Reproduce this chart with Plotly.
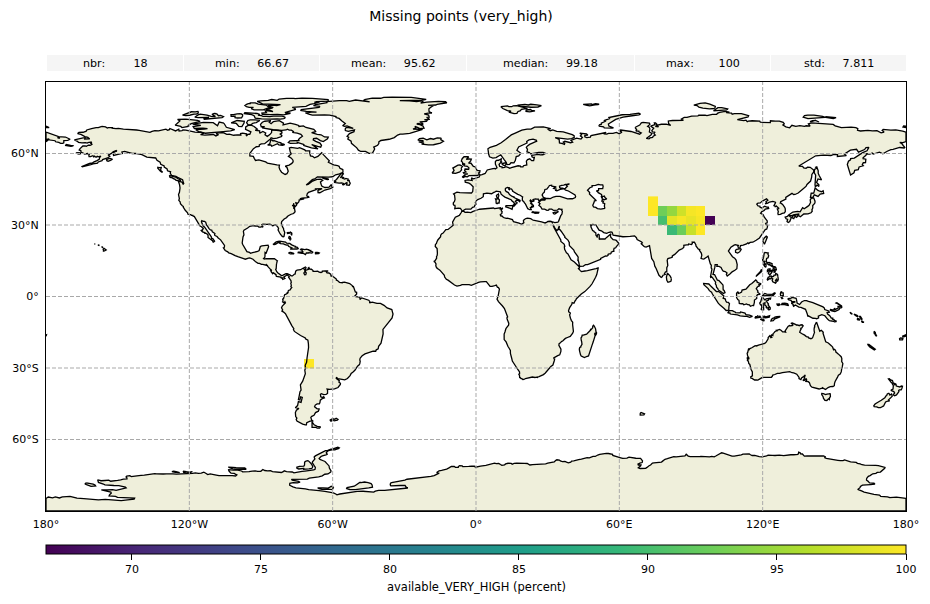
"""Missing points map: land and coast lists are lon/lat, drawn on plain axes since the geo basemap needs a CDN."""
import plotly.graph_objects as go

# stats strip above the map
stat_labels = ["nbr", "min", "mean", "median", "max", "std"]
stat_values = ["18", "66.67", "95.62", "99.18", "100", "7.811"]
stat_gaps = [8, 5, 5, 5, 7, 5]

# grid cells that have a value (cell centres, 4 degree grid)
cell_lon = [74, 74, 78, 82, 86, 90, 94, 78, 82, 86, 90, 94, 98, 82, 86, 90, 94, -70]
cell_lat = [40, 36, 36, 36, 36, 36, 36, 32, 32, 32, 32, 32, 32, 28, 28, 28, 28, -28]
cell_val = [100, 100, 92.6, 94.6, 97.6, 99.6, 100, 90, 98.7, 99.7, 98.9, 99.7, 66.67, 89.2, 92.4, 97.2, 100, 100]

lon_ticks = [-180, -120, -60, 0, 60, 120, 180]
lon_labels = ["180°", "120°W", "60°W", "0°", "60°E", "120°E", "180°"]
lat_ticks = [60, 30, 0, -30, -60]
lat_labels = ["60°N", "30°N", "0°", "30°S", "60°S"]
cbar_ticks = [70, 75, 80, 85, 90, 95, 100]

# coastlines, (lon, lat)
afro_eurasia = [
    (66.69,71.03),(68.54,71.93),(69.2,72.84),(69.94,73.04),(72.59,72.78),(72.79,72.22),(71.85,71.41),(72.47,71.09),(72.79,70.39),(72.56,69.02),(73.67,68.41),(73.24,67.74),(71.28,66.32),(72.42,66.17),(72.82,66.54),(73.92,66.79),(74.19,67.28),(75.05,67.76),(74.47,68.33),(74.94,68.99),(73.84,69.07),(73.6,69.63),(74.4,70.63),(73.1,71.45),(74.89,72.12),(74.66,72.83),(75.16,72.85),(75.68,72.3),(75.29,71.34),(76.36,71.15),(75.9,71.87),(77.58,72.27),(79.65,72.32),(81.5,71.75),(80.61,72.58),(80.51,73.65),(82.25,73.85),(84.66,73.81),(86.82,73.94),(86.01,74.46),(87.17,75.12),(88.32,75.14),(90.26,75.64),(92.9,75.77),(93.23,76.05),(95.86,76.14),(96.68,75.92),(98.92,76.45),(100.76,76.43),(101.04,76.86),(101.99,77.29),(104.35,77.7),(106.07,77.37),(104.71,77.13),(106.97,76.97),(107.24,76.48),(108.15,76.72),(111.08,76.71),(113.33,76.22),(114.13,75.85),(113.89,75.33),(112.78,75.03),(110.15,74.48),(109.4,74.18),(110.64,74.04),(112.12,73.79),(113.02,73.98),(113.53,73.34),(113.97,73.59),(115.57,73.75),(118.78,73.59),(119.02,73.12),(123.2,72.97),(123.26,73.74),(125.38,73.56),(126.98,73.57),(128.59,73.04),(129.05,72.4),(128.46,71.98),(129.72,71.19),(131.29,70.79),(132.25,71.84),(133.86,71.39),(135.56,71.66),(137.5,71.35),(138.23,71.63),(139.87,71.49),(139.15,72.42),(140.47,72.85),(149.5,72.2),(150.35,71.61),(152.97,70.84),(157.01,71.03),(159.0,70.87),(159.83,70.45),(159.71,69.72),(160.94,69.44),(162.28,69.64),(164.05,69.67),(165.94,69.47),(167.84,69.58),(169.58,68.69),(170.82,69.01),(170.01,69.65),(170.45,70.1),(173.64,69.82),(175.72,69.88),(178.6,69.4),(180,68.96),
    (180,64.98),(178.71,64.53),(177.41,64.61),(178.31,64.08),(178.91,63.25),(179.37,62.98),(179.49,62.57),(179.23,62.3),(177.36,62.52),(174.57,61.77),(173.68,61.65),(172.15,60.95),(170.7,60.34),(170.33,59.88),(168.9,60.57),(166.3,59.79),(165.84,60.16),(164.88,59.73),(163.54,59.87),(163.22,59.21),(162.02,58.24),(162.05,57.84),(163.19,57.62),(163.06,56.16),(162.13,56.12),(161.7,55.29),(162.12,54.86),(160.37,54.34),(160.02,53.2),(158.53,52.96),(158.23,51.94),(156.79,51.01),(155.43,55.38),(155.91,56.77),(156.76,57.36),(156.81,57.83),(158.36,58.06),(160.15,59.31),(161.87,60.34),(163.67,61.14),(164.47,62.55),(163.26,62.47),(162.66,61.64),(160.12,60.54),(159.3,61.77),(156.72,61.43),(154.22,59.76),(155.04,59.14),(152.81,58.88),(151.27,58.78),(151.34,59.5),(149.78,59.66),(148.54,59.16),(145.49,59.34),(142.2,59.04),(138.96,57.09),(135.13,54.73),(136.7,54.6),(137.19,53.98),(138.16,53.76),(138.8,54.25),(139.9,54.19),(141.35,53.09),(141.38,52.24),(140.6,51.24),(140.51,50.05),(140.06,48.45),(138.55,47.0),(138.22,46.31),(136.86,45.14),(135.52,43.99),(134.87,43.4),(133.54,42.81),(132.91,42.8),(132.28,43.28),(130.94,42.55),(130.78,42.22),(130.4,42.28),(129.97,41.94),(129.67,41.6),(129.71,40.88),(129.19,40.66),(129.01,40.49),(128.63,40.19),(127.97,40.0),(127.53,39.76),(127.5,39.32),(127.39,39.21),(127.78,39.05),(128.35,38.61),(129.21,37.43),(129.46,36.78),(129.47,35.63),(129.09,35.08),(128.19,34.89),(127.39,34.48),(126.49,34.39),(126.37,34.93),(126.56,35.68),(126.12,36.73),(126.86,36.89),(126.17,37.75),(125.69,37.94),(125.57,37.75),(125.28,37.67),(125.24,37.86),(124.71,38.11),(124.99,38.55),(125.22,38.67),(125.13,38.85),(125.39,39.39),(125.32,39.55),(124.74,39.66),(124.27,39.93),(122.87,39.64),(122.13,39.17),(121.05,38.9),(121.59,39.36),(121.38,39.75),(122.17,40.42),(121.64,40.95),(120.77,40.59),(119.64,39.9),(119.02,39.25),(118.04,39.2),(117.53,38.74),(118.06,38.06),(118.88,37.9),(118.91,37.45),(119.7,37.16),(120.82,37.87),(121.71,37.48),(122.36,37.45),(122.52,36.93),(121.1,36.65),(120.64,36.11),(119.66,35.61),(119.15,34.91),(120.23,34.36),(120.62,33.38),(121.23,32.46),(121.91,31.69),(121.89,30.95),(121.26,30.68),(121.5,30.14),(122.09,29.83),(121.94,29.02),(121.68,28.23),(121.13,28.14),(120.4,27.05),(119.59,25.74),(118.66,24.55),(117.28,23.62),(115.89,22.78),(114.76,22.67),(114.15,22.22),(113.81,22.55),(113.24,22.05),(111.84,21.55),(110.78,21.4),(110.44,20.34),(109.89,20.28),(109.63,21.01),(109.86,21.4),(108.52,21.72),(108.05,21.55),(106.72,20.7),(105.88,19.75),(105.66,19.06),(106.43,18.0),(107.36,16.7),(108.27,16.08),(108.88,15.28),(109.34,13.43),(109.2,11.67),(108.37,11.01),(107.22,10.36),(106.41,9.53),(105.16,8.6),(104.8,9.24),(105.08,9.92),(104.33,10.49),(103.5,10.63),(103.09,11.15),(102.58,12.19),(101.69,12.65),(100.83,12.63),(100.98,13.41),(100.1,13.41),(99.99,12.31),(99.15,9.96),(99.22,9.24),(99.87,9.21),(100.28,8.3),(100.46,7.43),(101.02,6.86),(101.62,6.74),(102.14,6.22),(102.37,6.13),(102.96,5.52),(103.38,4.86),(103.44,4.18),(103.33,3.73),(103.43,3.38),(103.5,2.79),(103.87,2.52),(104.25,1.63),(103.52,1.23),(102.57,1.97),(101.39,2.76),(101.27,3.27),(100.69,3.94),(100.56,4.77),(100.2,5.31),(100.31,6.04),(100.09,6.46),(99.69,6.85),(99.52,7.34),(98.99,7.91),(98.5,8.38),(98.34,7.79),(98.15,8.35),(98.26,8.97),(98.55,9.93),(98.46,10.68),(98.76,11.44),(98.43,12.03),(98.51,13.12),(98.1,13.64),(97.78,14.84),(97.6,16.1),(97.16,16.93),(96.51,16.43),(95.37,15.71),(94.81,15.8),(94.19,16.04),(94.53,17.28),(94.32,18.21),(93.54,19.37),(93.66,19.73),(93.08,19.86),(92.37,20.67),(92.08,21.19),(92.03,21.7),(91.83,22.18),(91.42,22.77),(90.5,22.81),(90.59,22.39),(90.27,21.84),(89.85,22.04),(89.7,21.86),(89.42,21.97),(89.03,22.06),(88.89,21.69),(88.21,21.7),(86.98,21.5),(87.03,20.74),(86.5,20.15),(85.06,19.48),(83.94,18.3),(83.19,17.67),(82.19,17.02),(82.19,16.56),(81.69,16.31),(80.79,15.95),(80.32,15.9),(80.03,15.14),(80.23,13.84),(80.29,13.01),(79.86,12.06),(79.86,10.36),(79.34,10.31),(78.89,9.55),(79.19,9.22),(78.28,8.93),(77.94,8.25),(77.54,7.97),(76.59,8.9),(76.13,10.3),(75.75,11.31),(75.4,11.78),(74.86,12.74),(74.62,13.99),(74.44,14.62),(73.53,15.99),(73.12,17.93),(72.82,19.21),(72.82,20.42),(72.63,21.36),(71.18,20.76),(70.47,20.88),(69.16,22.09),(69.64,22.45),(69.35,22.84),(68.18,23.69),(67.44,23.94),(67.15,24.66),(66.37,25.43),(64.53,25.24),(62.91,25.22),(61.5,25.08),(59.62,25.38),(58.53,25.61),(57.4,25.74),(56.97,26.97),(56.49,27.14),(55.72,26.96),(54.72,26.48),(53.49,26.81),(52.48,27.58),(51.52,27.87),(50.85,28.81),(50.12,30.15),(49.58,29.99),(48.94,30.32),(48.57,29.93),(47.97,29.98),(48.18,29.53),(48.09,29.31),(48.42,28.55),(48.81,27.69),(49.3,27.46),(49.47,27.11),(50.15,26.69),(50.21,26.28),(50.11,25.94),(50.24,25.61),(50.53,25.33),(50.66,24.9),(50.81,24.75),(50.74,25.48),(51.01,26.01),(51.29,26.11),(51.59,25.8),(51.61,25.22),(51.39,24.63),(51.58,24.25),(51.76,24.29),(51.79,24.02),(52.58,24.18),(53.4,24.15),(54.01,24.12),(54.69,24.8),(55.44,25.44),(56.07,26.06),(56.36,26.4),(56.49,26.31),(56.39,25.9),(56.26,25.71),(56.4,24.92),(56.85,24.24),(57.4,23.88),(58.14,23.75),(58.73,23.57),(59.18,22.99),(59.45,22.66),(59.81,22.53),(59.81,22.31),(59.28,21.43),(58.86,21.11),(58.49,20.43),(58.03,20.48),(57.83,20.24),(57.67,19.74),(57.79,19.07),(57.69,18.94),(57.23,18.95),(56.61,18.57),(56.51,18.09),(56.28,17.88),(55.66,17.88),(55.27,17.63),(55.27,17.23),(54.79,16.95),(54.24,17.04),(53.57,16.71),(53.11,16.65),(52.39,16.38),(52.19,15.94),(52.17,15.6),(51.17,15.18),(49.57,14.71),(48.68,14.0),(48.24,13.95),(47.94,14.01),(47.35,13.59),(46.72,13.4),(45.88,13.35),(45.63,13.29),(45.41,13.03),(45.14,12.95),(44.99,12.7),(44.49,12.72),(44.18,12.59),(43.48,12.64),(43.22,13.22),(43.25,13.77),(43.09,14.06),(42.89,14.8),(42.6,15.21),(42.81,15.26),(42.7,15.72),(42.82,15.91),(42.78,16.35),(42.65,16.77),(42.35,17.08),(42.27,17.47),(41.75,17.83),(41.22,18.67),(40.94,19.49),(40.25,20.17),(39.8,20.34),(39.14,21.29),(39.02,21.99),(39.07,22.58),(38.49,23.69),(38.02,24.08),(37.48,24.29),(37.15,24.86),(37.21,25.08),(36.93,25.6),(36.64,25.83),(36.25,26.57),(35.64,27.38),(35.13,28.06),(34.63,28.06),(34.79,28.61),(34.83,28.96),(34.96,29.36),(34.92,29.5),
    (34.64,29.1),(34.43,28.34),(34.15,27.82),(33.92,27.65),(33.59,27.97),(33.14,28.42),(32.42,29.85),(32.32,29.76),(32.73,28.71),(33.35,27.7),(34.1,26.14),(34.47,25.6),(34.8,25.03),(35.69,23.93),(35.49,23.75),(35.53,23.1),(36.69,22.2),(36.87,22.0),(37.19,21.02),(36.97,20.84),(37.11,19.81),(37.48,18.61),(37.86,18.37),(38.41,18.0),(38.99,16.84),(39.27,15.92),(39.81,15.44),(41.18,14.49),(41.73,13.92),(42.28,13.34),(42.59,13.0),(43.08,12.7),(43.32,12.39),(43.29,11.97),(42.72,11.74),(43.15,11.46),(43.47,11.28),(43.67,10.86),(44.12,10.45),(44.61,10.44),(45.56,10.7),(46.65,10.82),(47.53,11.13),(48.02,11.19),(48.38,11.38),(48.95,11.41),(49.27,11.43),(49.73,11.58),(50.26,11.68),(50.73,12.02),(51.11,12.02),(51.13,11.75),(51.04,11.17),(51.05,10.64),(50.83,10.28),(50.55,9.2),(50.07,8.08),(49.45,6.8),(48.59,5.34),(47.74,4.22),(46.56,2.86),(45.56,2.05),(44.07,1.05),(43.14,0.29),(42.04,-0.92),(41.81,-1.45),(41.58,-1.68),(40.99,-2.85),(40.26,-2.57),(40.12,-3.28),(39.8,-3.68),(39.6,-4.35),(39.2,-4.68),(38.74,-5.91),(38.8,-6.48),(39.44,-6.84),(39.47,-7.1),(39.19,-7.7),(39.25,-8.01),(39.19,-8.49),(39.54,-9.11),(39.95,-10.1),(40.32,-10.32),(40.48,-10.77),(40.44,-11.76),(40.56,-12.64),(40.6,-14.2),(40.78,-14.69),(40.48,-15.41),(40.09,-16.1),(39.45,-16.72),(38.54,-17.1),(37.41,-17.59),(36.28,-18.66),(35.9,-18.84),(35.2,-19.55),(34.79,-19.78),(34.7,-20.5),(35.18,-21.25),(35.37,-21.84),(35.39,-22.14),(35.56,-22.09),(35.53,-23.07),(35.37,-23.54),(35.61,-23.71),(35.46,-24.12),(35.04,-24.48),(34.22,-24.82),(33.01,-25.36),(32.57,-25.73),(32.66,-26.15),(32.92,-26.22),(32.83,-26.74),(32.58,-27.47),(32.46,-28.3),(32.2,-28.75),(31.33,-29.4),(30.9,-29.91),(30.62,-30.42),(30.06,-31.14),(28.93,-32.17),(28.22,-32.77),(27.46,-33.23),(26.42,-33.61),(25.91,-33.67),(25.78,-33.94),(25.17,-33.8),(24.68,-33.99),(23.59,-33.79),(22.99,-33.92),(22.57,-33.86),(21.54,-34.26),(20.69,-34.42),(20.07,-34.8),(19.62,-34.82),(19.19,-34.46),(18.86,-34.44),(18.42,-34.0),(18.38,-34.14),(18.24,-33.87),(18.25,-33.28),(17.93,-32.61),(18.25,-32.43),(18.22,-31.66),(17.57,-30.73),(17.06,-29.88),(16.34,-28.58),(15.6,-27.82),(15.21,-27.09),(14.99,-26.12),(14.74,-25.39),(14.41,-23.85),(14.39,-22.66),(14.26,-22.11),(13.87,-21.7),(13.35,-20.87),(12.83,-19.67),(12.61,-19.05),(11.79,-18.07),(11.73,-17.3),(11.64,-16.67),(11.78,-15.79),(12.12,-14.88),(12.18,-14.45),(12.5,-13.55),(12.74,-13.14),(13.31,-12.48),(13.63,-12.04),(13.74,-11.3),(13.69,-10.73),(13.39,-10.37),(13.12,-9.77),(12.88,-9.17),(12.93,-8.96),(13.24,-8.56),(12.93,-7.6),(12.73,-6.93),(12.23,-6.29),(12.32,-6.1),(12.18,-5.79),(11.91,-5.04),(11.09,-3.98),(10.07,-2.97),(9.41,-2.14),(8.8,-1.11),(8.83,-0.78),(9.05,-0.46),(9.29,0.27),(9.49,1.01),(9.31,1.16),(9.65,2.28),(9.8,3.07),(9.4,3.73),(8.95,3.9),(8.74,4.35),(8.49,4.5),(8.5,4.77),(7.46,4.41),(7.08,4.46),(6.7,4.24),(5.9,4.26),(5.36,4.89),(5.03,5.61),(4.33,6.27),(3.57,6.26),(2.69,6.26),(1.87,6.14),(1.06,5.93),(-0.51,5.34),(-1.06,5.0),(-1.96,4.71),(-2.86,5.0),(-3.31,4.98),(-4.01,5.18),(-4.65,5.17),(-5.83,4.99),(-6.53,4.71),(-7.52,4.34),(-7.71,4.36),(-7.97,4.36),(-9.0,4.83),(-9.91,5.59),(-10.76,6.14),(-11.44,6.79),(-11.71,6.86),(-12.43,7.26),(-12.95,7.8),(-13.12,8.16),(-13.25,8.9),(-13.69,9.49),(-14.07,9.89),(-14.33,10.02),(-14.58,10.21),(-14.69,10.66),(-14.84,10.88),(-15.13,11.04),(-15.66,11.46),(-16.09,11.52),(-16.31,11.81),(-16.31,11.96),(-16.61,12.17),(-16.68,12.38),(-16.84,13.15),(-16.71,13.59),(-17.13,14.37),(-17.63,14.73),(-17.19,14.92),(-16.7,15.62),(-16.46,16.14),(-16.55,16.67),(-16.27,17.17),(-16.15,18.11),(-16.26,19.1),(-16.38,19.59),(-16.28,20.09),(-17.06,20.99),(-17.02,21.42),(-16.97,21.89),(-16.59,22.16),(-16.26,22.68),(-16.33,23.02),(-15.98,23.72),(-15.43,24.36),(-15.09,24.52),(-14.82,25.1),(-14.8,25.64),(-14.44,26.25),(-13.77,26.62),(-13.14,27.64),(-12.62,28.04),(-11.69,28.15),(-10.9,28.83),(-10.4,29.1),(-9.56,29.93),(-9.81,31.18),(-9.43,32.04),(-9.3,32.56),(-8.66,33.24),(-7.65,33.7),(-6.91,34.11),(-6.24,35.15),(-5.93,35.76),(-5.19,35.76),(-4.59,35.33),(-3.64,35.4),(-2.6,35.18),(-2.17,35.17),(-1.21,35.71),(-0.13,35.89),(0.5,36.3),(1.47,36.61),(3.16,36.78),(4.82,36.87),(5.32,36.72),(6.26,37.11),(7.33,37.12),(7.74,36.89),(8.42,36.95),(9.51,37.35),(10.21,37.23),(10.18,36.72),(11.03,37.09),(11.1,36.9),(10.6,36.41),(10.59,35.95),(10.94,35.7),(10.81,34.83),(10.15,34.33),(10.34,33.79),(10.86,33.77),(11.11,33.29),(11.49,33.14),(12.66,32.79),(13.08,32.88),(13.92,32.71),(15.25,32.27),(15.71,31.38),(16.61,31.18),(18.02,30.76),(19.09,30.27),(19.57,30.53),(20.05,30.99),(19.82,31.75),(20.13,32.24),(20.85,32.71),(21.54,32.84),(22.9,32.64),(23.24,32.19),(23.61,32.19),(23.93,32.02),(24.92,31.9),(25.16,31.57),(26.5,31.59),(27.46,31.32),(28.45,31.03),(28.91,30.87),(29.68,31.19),(30.09,31.47),(30.98,31.56),(31.69,31.43),(31.96,30.93),(32.19,31.26),(32.99,31.02),(33.77,30.97),(34.27,31.22),
    (34.55,31.55),(34.96,32.83),(35.13,33.09),(35.48,33.91),(35.98,34.61),(35.91,35.41),(36.15,35.82),(35.78,36.27),(36.16,36.65),(35.55,36.57),(34.71,36.8),(34.03,36.22),(32.51,36.11),(31.7,36.64),(30.62,36.68),(30.39,36.26),(29.7,36.14),(28.73,36.68),(27.64,36.66),(27.05,37.65),(26.32,38.21),(26.8,38.99),(26.17,39.46),(27.28,40.42),(28.82,40.46),(29.24,41.22),(31.15,41.09),(32.35,41.74),(33.51,42.02),(35.17,42.04),(36.91,41.34),(38.35,40.95),(39.51,41.1),(40.37,41.01),(41.55,41.54),(41.7,41.96),(41.45,42.65),(40.88,43.01),(40.32,43.13),(39.96,43.43),(38.68,44.28),(37.54,44.66),(36.68,45.24),(37.4,45.4),(38.23,46.24),(37.67,46.64),(39.15,47.04),(39.12,47.26),(38.22,47.1),(37.43,47.02),(36.76,46.7),(35.82,46.65),(34.96,46.27),(35.02,45.65),(35.51,45.41),(36.53,45.47),(36.33,45.11),(35.24,44.94),(33.88,44.36),(33.33,44.56),(33.55,45.03),(32.45,45.33),(32.63,45.52),(33.59,46.0),(33.3,46.08),(31.74,46.33),(31.68,46.71),(30.75,46.58),(30.38,46.03),(29.6,45.29),(29.63,45.04),(28.84,44.91),(28.56,43.71),(28.04,43.29),(27.67,42.58),(28.0,42.01),(28.12,41.62),(28.99,41.3),(28.81,41.05),(27.62,41.0),(27.19,40.69),(26.36,40.15),(26.04,40.62),(26.06,40.82),(25.45,40.85),(24.93,40.95),(23.71,40.69),(24.41,40.12),(23.9,39.96),(23.34,39.96),(22.81,40.48),(22.63,40.26),(22.85,39.66),(23.35,39.19),(22.97,38.97),(23.53,38.51),(24.03,38.22),(24.04,37.66),(23.12,37.92),(23.41,37.41),(22.77,37.31),(23.15,36.42),(22.49,36.41),(21.67,36.84),(21.3,37.64),(21.12,38.31),(20.73,38.77),(20.22,39.34),(20.15,39.62),(19.98,39.69),(19.96,39.92),(19.41,40.25),(19.32,40.73),(19.4,41.41),(19.54,41.72),(19.37,41.88),(19.16,41.96),(18.88,42.28),(18.45,42.48),(17.51,42.85),(16.93,43.21),(16.02,43.51),(15.17,44.24),(15.38,44.32),(14.92,44.74),(14.9,45.08),(14.26,45.23),(13.95,44.8),(13.66,45.14),(13.68,45.48),(13.94,45.59),(13.14,45.74),(12.33,45.38),(12.26,44.6),(12.59,44.09),(13.53,43.59),(14.03,42.76),(15.14,41.96),(15.93,41.96),(16.17,41.74),(15.89,41.54),(16.79,41.18),(17.52,40.88),(18.38,40.36),(18.48,40.17),(18.29,39.81),(17.74,40.28),(16.87,40.44),(16.45,39.8),(17.17,39.42),(17.05,38.9),(16.64,38.84),(16.1,37.99),(15.68,37.91),(15.69,38.21),(15.89,38.75),(16.11,38.96),(15.72,39.54),(15.41,40.05),(14.99,40.17),(14.7,40.6),(14.06,40.79),(13.63,41.19),(12.89,41.25),(12.11,41.7),(11.19,42.36),(10.51,42.93),(10.2,43.92),(9.7,44.04),(8.89,44.37),(8.43,44.23),(7.85,43.77),(7.44,43.69),(6.53,43.13),(4.56,43.4),(3.1,43.08),(2.99,42.47),(3.04,41.89),(2.09,41.23),(0.81,41.01),(0.72,40.68),(0.11,40.12),(-0.28,39.31),(0.11,38.74),(-0.47,38.29),(-0.68,37.64),(-1.44,37.44),(-2.15,36.67),(-3.42,36.66),(-4.37,36.68),(-5.0,36.32),(-5.38,35.95),(-5.87,36.03),(-6.24,36.37),(-6.52,36.94),(-7.45,37.1),(-7.85,37.0),(-8.38,36.98),(-8.9,36.87),(-8.75,37.65),(-8.84,38.27),(-9.29,38.36),(-9.53,38.74),(-9.45,39.39),(-9.05,39.76),(-8.77,40.76),(-8.79,41.18),(-8.99,41.54),(-9.03,41.88),(-8.98,42.59),(-9.39,43.03),(-7.98,43.75),(-6.75,43.57),(-5.41,43.57),(-4.35,43.4),(-3.52,43.46),(-1.9,43.42),(-1.38,44.02),(-1.19,46.01),(-2.23,47.06),(-2.96,47.57),(-4.49,47.95),(-4.59,48.68),(-3.3,48.9),(-1.62,48.64),(-1.93,49.78),(-1.0,49.35),(1.34,50.13),(1.64,50.95),(2.51,51.15),(3.31,51.35),(3.83,51.62),(4.71,53.09),(6.07,53.51),(6.91,53.48),(7.1,53.69),(7.94,53.75),(8.12,53.53),(8.8,54.02),(8.57,54.4),(8.53,54.96),(8.12,55.52),(8.09,56.54),(8.26,56.81),(8.54,57.11),(9.42,57.17),(9.94,57.45),(10.58,57.73),(10.55,57.22),(10.25,56.89),(10.37,56.61),(10.91,56.46),(10.67,56.08),(10.37,56.19),(9.65,55.47),(9.92,54.98),(9.94,54.6),(10.95,54.36),(10.94,54.01),(11.96,54.2),(12.52,54.47),(13.65,54.08),(14.12,53.76),(14.8,54.05),(16.36,54.51),(17.62,54.85),(18.62,54.68),(18.7,54.44),(19.66,54.43),(19.89,54.87),(21.27,55.19),(21.06,56.03),(21.09,56.78),(21.58,57.41),(22.52,57.75),(23.32,57.01),(24.12,57.03),(24.31,57.79),(24.43,58.38),(24.06,58.26),(23.43,58.61),(23.34,59.19),(24.6,59.47),(25.86,59.61),(26.95,59.45),(27.98,59.48),(29.12,60.03),(28.07,60.5),(26.26,60.42),(24.5,60.06),(22.87,59.85),(22.29,60.39),(21.32,60.72),(21.54,61.71),(21.06,62.61),(21.54,63.19),(22.44,63.82),(24.73,64.9),(25.4,65.11),(25.29,65.53),(23.9,66.01),(22.18,65.72),(21.21,65.03),(21.37,64.41),(19.78,63.61),(17.85,62.75),(17.12,61.34),(17.83,60.64),(18.79,60.08),(17.87,58.95),(16.83,58.72),(16.45,57.04),(15.88,56.1),(14.67,56.2),(14.1,55.41),(12.94,55.36),(12.63,56.31),(11.79,57.44),(11.03,58.86),(10.36,59.47),(8.38,58.31),(7.05,58.08),(5.67,58.59),(5.31,59.66),(4.99,61.97),(5.91,62.61),(8.55,63.45),(10.53,64.49),(12.36,65.88),(14.76,67.81),(16.44,68.56),(19.18,69.82),(21.38,70.26),(23.02,70.2),(24.55,71.03),(26.37,70.99),(28.17,71.19),(31.29,70.45),(30.01,70.19),(31.1,69.56),(32.13,69.91),(33.78,69.3),(36.51,69.06),(40.29,67.93),(41.06,67.46),(41.13,66.79),(40.02,66.27),(38.38,66.0),(33.92,66.76),(33.18,66.63),(34.81,65.9),(34.88,65.44),(34.94,64.41),(36.23,64.11),(37.01,63.85),(37.14,64.33),(36.54,64.76),(37.18,65.14),(39.59,64.52),(40.44,64.76),(39.76,65.5),(42.09,66.48),(43.02,66.42),(43.95,66.07),(44.53,66.76),(43.7,67.35),(44.19,67.95),(43.45,68.57),(46.25,68.25),(46.82,67.69),(45.56,67.57),(45.56,67.01),(46.35,66.67),(47.89,66.88),(48.14,67.52),(50.23,67.99),(53.72,68.86),(54.47,68.81),(53.49,68.2),(54.73,68.1),(55.44,68.44),(57.32,68.47),(58.8,68.88),(59.94,68.28),(61.08,68.94),(60.03,69.52),(60.55,69.85),(63.5,69.55),(64.89,69.23),(68.51,68.09),(69.18,68.62),(68.16,69.14),(68.14,69.36),(66.93,69.45),(67.26,69.93),(66.72,70.71),(66.69,71.03),
]
chukotka = [(-180,68.96),(-177.55,68.2),(-174.93,67.21),(-175.01,66.58),(-174.34,66.34),(-174.57,67.06),(-171.86,66.91),(-169.9,65.98),(-170.89,65.54),(-172.53,65.44),(-172.56,64.46),(-172.96,64.25),(-173.89,64.28),(-174.65,64.63),(-175.98,64.92),(-176.21,65.36),(-177.22,65.52),(-178.36,65.39),(-178.9,65.74),(-178.69,66.11),(-179.88,65.87),(-179.43,65.4),(-180,64.98),(-180,68.96)]
americas = [
    (-156.58,71.36),(-155.07,71.15),(-154.34,70.7),(-153.9,70.89),(-152.21,70.83),(-152.27,70.6),(-150.74,70.43),(-149.72,70.53),(-147.61,70.21),(-145.69,70.12),(-144.92,69.99),(-143.59,70.15),(-142.07,69.85),(-141.0,69.71),(-139.12,69.47),(-137.55,68.99),(-136.5,68.9),(-135.63,69.32),(-134.41,69.63),(-132.93,69.51),(-131.43,69.94),(-129.79,70.19),(-129.11,69.78),(-128.36,70.01),(-128.14,70.48),(-125.76,69.48),(-124.42,70.16),(-124.29,69.4),(-123.06,69.56),(-122.68,69.86),(-121.47,69.8),(-119.94,69.38),(-117.6,69.01),(-116.23,68.84),(-115.25,68.91),(-113.9,68.4),(-115.3,67.9),(-113.5,67.69),(-110.8,67.81),(-109.95,67.98),(-108.88,67.38),(-107.79,67.89),(-108.81,68.31),(-108.17,68.65),(-106.95,68.7),(-106.15,68.8),(-105.34,68.56),(-104.34,68.02),(-103.22,68.1),(-101.45,67.65),(-99.9,67.81),(-98.44,67.78),(-98.56,68.4),(-97.67,68.58),(-96.12,68.24),(-96.13,67.29),(-95.49,68.09),(-94.69,68.06),(-94.23,69.07),(-95.3,69.69),(-96.47,70.09),(-96.39,71.19),(-95.21,71.92),(-93.89,71.76),(-92.88,71.32),(-91.52,70.19),(-92.41,69.7),(-90.55,69.5),(-90.55,68.47),(-89.22,69.26),(-88.02,68.62),(-88.32,67.87),(-87.35,67.2),(-86.31,67.92),(-85.58,68.78),(-85.52,69.88),(-84.1,69.81),(-82.62,69.66),(-81.28,69.16),(-81.22,68.67),(-81.96,68.13),(-81.26,67.6),(-81.39,67.11),(-83.34,66.41),(-84.74,66.26),(-85.77,66.56),(-86.07,66.06),(-87.03,65.21),(-87.32,64.78),(-88.48,64.1),(-89.91,64.03),(-90.7,63.61),(-90.77,62.96),(-91.93,62.84),(-93.16,62.02),(-94.24,60.9),(-94.63,60.11),(-94.68,58.95),(-93.22,58.78),(-92.76,57.85),(-92.3,57.09),(-90.9,57.28),(-89.04,56.85),(-88.04,56.47),(-87.32,55.999),(-86.07,55.72),(-85.01,55.3),(-83.36,55.24),(-82.27,55.15),(-82.44,54.28),(-82.13,53.28),(-81.4,52.16),(-79.91,51.21),(-79.14,51.53),(-78.6,52.56),(-79.12,54.14),(-79.83,54.67),(-78.23,55.14),(-77.1,55.84),(-76.54,56.53),(-76.62,57.2),(-77.3,58.05),(-78.52,58.8),(-77.34,59.85),(-77.77,60.76),(-78.11,62.32),(-77.41,62.55),(-75.7,62.28),(-74.67,62.18),(-73.84,62.44),(-72.91,62.11),(-71.68,61.53),(-71.37,61.14),(-69.59,61.06),(-69.62,60.22),(-69.29,58.96),(-68.37,58.8),(-67.65,58.21),(-66.2,58.77),(-65.25,59.87),(-64.58,60.34),(-63.8,59.44),(-62.5,58.17),(-61.4,56.97),(-61.8,56.34),(-60.47,55.78),(-59.57,55.2),(-57.98,54.95),(-57.33,54.63),(-56.94,53.78),(-56.16,53.65),(-55.76,53.27),(-55.68,52.15),(-56.41,51.77),(-57.13,51.42),(-58.77,51.06),(-60.03,50.24),(-61.72,50.08),(-63.86,50.29),(-65.36,50.3),(-66.4,50.23),(-67.24,49.51),(-68.51,49.07),(-69.95,47.74),(-71.1,46.82),(-70.26,46.99),(-68.65,48.3),(-66.55,49.13),(-65.06,49.23),(-64.17,48.74),(-65.12,48.07),(-64.8,46.99),(-64.47,46.24),(-63.17,45.74),(-61.52,45.88),(-60.52,47.01),(-60.45,46.28),(-59.8,45.92),(-61.04,45.27),(-63.25,44.67),(-64.25,44.27),(-65.36,43.55),(-66.12,43.62),(-66.16,44.47),(-64.43,45.29),(-66.03,45.26),(-67.14,45.14),(-66.96,44.81),(-68.03,44.33),(-69.06,43.98),(-70.12,43.68),(-70.65,43.09),(-70.81,42.87),(-70.83,42.34),(-70.5,41.8),(-70.08,41.78),(-70.18,42.15),(-69.88,41.92),(-69.97,41.64),(-70.64,41.48),(-71.12,41.49),(-71.86,41.32),(-72.88,41.22),(-73.71,40.93),(-72.24,41.12),(-71.95,40.93),(-73.35,40.63),(-74.0,40.63),(-73.95,40.75),(-74.26,40.47),(-73.96,40.43),(-74.18,39.71),(-74.91,38.94),(-74.98,39.2),(-75.2,39.25),(-75.53,39.5),(-75.32,38.96),(-75.07,38.78),(-75.06,38.4),(-75.38,38.02),(-75.94,37.22),(-76.03,37.26),(-75.72,37.94),(-76.23,38.32),(-76.35,39.15),(-76.54,38.72),(-76.33,38.08),(-76.99,38.24),(-76.3,37.92),(-76.26,36.97),(-75.97,36.9),(-75.73,35.55),(-76.36,34.81),(-77.4,34.51),(-78.05,33.93),(-78.55,33.86),(-79.06,33.49),(-79.2,33.16),(-80.3,32.51),(-80.86,32.03),(-81.34,31.44),(-81.49,30.73),(-81.31,30.04),(-80.98,29.18),(-80.54,28.47),(-80.53,28.04),(-80.06,26.88),(-80.09,25.82),(-80.38,25.21),(-80.68,25.08),(-81.17,25.2),(-81.33,25.64),(-81.71,25.87),(-82.24,26.73),(-82.71,27.5),(-82.85,27.89),(-82.65,28.55),(-82.93,29.1),(-83.71,29.94),(-84.1,30.09),(-85.11,29.64),(-85.29,29.69),(-85.77,30.15),(-86.4,30.4),(-87.53,30.27),(-88.42,30.38),(-89.18,30.32),(-89.6,30.16),(-89.41,29.89),(-89.43,29.49),(-89.22,29.29),(-89.41,29.16),(-89.78,29.31),(-90.15,29.12),(-90.88,29.15),(-91.63,29.68),(-92.5,29.55),(-93.23,29.78),(-93.85,29.71),(-94.69,29.48),(-95.6,28.74),(-96.59,28.31),(-97.14,27.83),(-97.37,27.38),(-97.38,26.69),(-97.33,26.21),(-97.14,25.87),(-97.53,24.99),(-97.7,24.27),(-97.78,22.93),(-97.87,22.44),(-97.7,21.9),(-97.39,21.41),(-97.19,20.64),(-96.53,19.89),(-96.29,19.32),(-95.9,18.83),(-94.84,18.56),(-94.43,18.14),(-93.55,18.42),(-92.79,18.52),(-91.41,18.88),(-90.77,19.28),(-90.53,19.87),(-90.45,20.71),(-90.28,21.0),(-89.6,21.26),(-88.54,21.49),(-87.66,21.46),(-87.05,21.54),(-86.81,20.85),(-87.44,19.47),(-87.84,18.26),(-88.3,18.5),(-88.3,17.64),(-88.2,17.49),(-88.36,16.53),(-88.93,15.89),(-88.6,15.71),(-87.9,15.86),(-87.6,15.88),(-86.9,15.76),(-86.44,15.78),(-86.0,15.9),(-84.98,16.0),(-84.37,15.84),(-83.77,15.42),(-83.41,15.27),(-83.15,14.99),(-83.23,14.9),(-83.28,14.68),(-83.18,14.31),(-83.41,13.97),(-83.52,13.57),(-83.55,13.13),(-83.5,12.87),(-83.47,12.42),(-83.63,12.32),(-83.72,11.89),(-83.65,11.63),(-83.86,11.37),(-83.81,11.1),(-83.66,10.94),(-83.4,10.4),(-83.02,10.0),(-82.55,9.57),(-82.19,9.21),(-81.81,9.0),(-81.44,8.79),(-80.95,8.86),(-80.52,9.11),(-79.91,9.31),(-79.57,9.61),(-79.02,9.55),(-78.5,9.42),(-78.06,9.25),(-77.73,8.95),(-77.35,8.67),
    (-76.84,8.64),(-76.09,9.34),(-75.67,9.44),(-75.66,9.77),(-75.48,10.62),(-74.91,11.08),(-74.28,11.1),(-74.2,11.31),(-73.41,11.23),(-72.63,11.73),(-72.24,11.96),(-71.75,12.44),(-71.4,12.38),(-71.14,12.11),(-71.33,11.78),(-71.36,11.54),(-71.95,11.42),(-71.62,10.97),(-71.63,10.45),(-72.07,9.87),(-71.7,9.07),(-71.26,9.14),(-71.04,9.86),(-71.35,10.21),(-71.4,10.97),(-70.16,11.38),(-70.29,11.85),(-69.94,12.16),(-69.58,11.46),(-68.88,11.44),(-68.23,10.89),(-68.19,10.55),(-67.3,10.55),(-66.23,10.65),(-65.66,10.2),(-64.89,10.08),(-64.33,10.39),(-64.32,10.64),(-63.08,10.7),(-61.88,10.72),(-62.73,10.42),(-62.39,9.95),(-61.59,9.87),(-60.83,9.38),(-60.67,8.58),(-60.15,8.6),(-59.76,8.37),(-59.1,7.99),(-58.48,7.35),(-58.45,6.83),(-58.08,6.81),(-57.54,6.32),(-57.15,5.97),(-55.95,5.77),(-55.84,5.95),(-55.03,6.03),(-53.96,5.76),(-53.62,5.65),(-52.88,5.41),(-51.82,4.57),(-51.66,4.16),(-51.32,4.2),(-51.07,3.65),(-50.51,1.9),(-49.97,1.74),(-49.95,1.05),(-50.7,0.22),(-50.39,-0.08),(-48.62,-0.24),(-48.58,-1.24),(-47.82,-0.58),(-46.57,-0.94),(-44.91,-1.55),(-44.42,-2.14),(-44.58,-2.69),(-43.42,-2.38),(-41.47,-2.91),(-39.98,-2.87),(-38.5,-3.7),(-37.22,-4.82),(-36.45,-5.11),(-35.6,-5.15),(-35.24,-5.46),(-34.9,-6.74),(-34.73,-7.34),(-35.13,-8.99),(-35.64,-9.65),(-37.05,-11.04),(-37.68,-12.17),(-38.42,-13.04),(-38.67,-13.06),(-38.95,-13.79),(-38.88,-15.67),(-39.16,-17.21),(-39.27,-17.87),(-39.58,-18.26),(-39.76,-19.6),(-40.77,-20.9),(-40.94,-21.94),(-41.75,-22.37),(-41.99,-22.97),(-43.07,-22.97),(-44.65,-23.35),(-45.35,-23.8),(-46.47,-24.09),(-47.65,-24.89),(-48.5,-25.88),(-48.64,-26.62),(-48.47,-27.18),(-48.66,-28.19),(-48.89,-28.67),(-49.59,-29.22),(-50.7,-30.98),(-51.58,-31.78),(-52.26,-32.25),(-52.71,-33.2),(-53.37,-33.77),(-53.81,-34.4),(-54.94,-34.95),(-55.67,-34.75),(-56.22,-34.86),(-57.14,-34.43),(-57.82,-34.46),(-58.43,-33.91),(-58.5,-34.43),(-57.23,-35.29),(-57.36,-35.98),(-56.74,-36.41),(-56.79,-36.9),(-57.75,-38.18),(-59.23,-38.72),(-61.24,-38.93),(-62.34,-38.83),(-62.13,-39.42),(-62.33,-40.17),(-62.15,-40.68),(-62.75,-41.03),(-63.77,-41.17),(-64.73,-40.8),(-65.12,-41.06),(-64.98,-42.06),(-64.3,-42.36),(-63.76,-42.04),(-63.46,-42.56),(-64.38,-42.87),(-65.18,-43.5),(-65.33,-44.5),(-65.57,-45.04),(-66.51,-45.04),(-67.29,-45.55),(-67.58,-46.3),(-66.6,-47.03),(-65.64,-47.24),(-65.99,-48.13),(-67.17,-48.7),(-67.82,-49.87),(-68.73,-50.26),(-69.14,-50.73),(-68.82,-51.77),(-68.15,-52.35),(-68.57,-52.3),(-69.46,-52.29),(-69.94,-52.54),(-70.85,-52.9),(-71.01,-53.83),(-71.43,-53.86),(-72.56,-53.53),(-73.7,-52.84),(-74.95,-52.26),(-75.26,-51.63),(-74.98,-51.04),(-75.48,-50.38),(-75.61,-48.67),(-75.18,-47.71),(-74.13,-46.94),(-75.64,-46.65),(-74.69,-45.76),(-74.35,-44.1),(-73.24,-44.45),(-72.72,-42.38),(-73.39,-42.12),(-73.7,-43.37),(-74.33,-43.22),(-74.02,-41.79),(-73.68,-39.94),(-73.22,-39.26),(-73.51,-37.12),(-72.55,-35.51),(-71.86,-33.91),(-71.44,-32.42),(-71.67,-30.92),(-71.37,-30.1),(-71.49,-28.86),(-70.91,-27.64),(-70.72,-25.71),(-70.4,-23.63),(-70.09,-21.39),(-70.16,-19.76),(-70.37,-18.35),(-71.38,-17.77),(-71.46,-17.36),(-73.44,-16.36),(-75.24,-15.27),(-76.01,-14.65),(-76.42,-13.82),(-76.26,-13.54),(-77.11,-12.22),(-78.09,-10.38),(-79.04,-8.39),(-79.45,-7.93),(-79.76,-7.19),(-80.54,-6.54),(-81.25,-6.14),(-80.93,-5.69),(-81.41,-4.74),(-81.1,-4.04),(-80.3,-3.4),(-79.77,-2.66),(-79.99,-2.22),(-80.37,-2.69),(-80.97,-2.25),(-80.76,-1.97),(-80.93,-1.06),(-80.58,-0.91),(-80.4,-0.28),(-80.02,0.36),(-80.09,0.77),(-79.54,0.98),(-78.86,1.38),(-78.99,1.69),(-78.62,1.77),(-78.66,2.27),(-78.43,2.63),(-77.93,2.7),(-77.51,3.33),(-77.13,3.85),(-77.5,4.09),(-77.31,4.67),(-77.53,5.58),(-77.32,5.85),(-77.48,6.69),(-77.88,7.22),
    (-78.21,7.51),(-78.43,8.05),(-78.18,8.32),(-78.44,8.39),(-78.62,8.72),(-79.12,9.0),(-79.56,8.93),(-79.76,8.58),(-80.16,8.33),(-80.38,8.3),(-80.48,8.09),(-80.0,7.55),(-80.28,7.42),(-80.42,7.27),(-80.89,7.22),(-81.06,7.82),(-81.19,7.65),(-81.52,7.71),(-81.72,8.11),(-82.13,8.18),(-82.39,8.29),(-82.82,8.29),(-82.85,8.07),(-82.97,8.23),(-83.51,8.45),(-83.71,8.66),(-83.6,8.83),(-83.63,9.05),(-83.91,9.29),(-84.3,9.49),(-84.65,9.62),(-84.71,9.91),(-84.98,10.09),(-84.91,9.8),(-85.11,9.56),(-85.34,9.83),(-85.66,9.93),(-85.8,10.13),(-85.79,10.44),(-85.66,10.75),(-85.94,10.9),(-85.71,11.09),(-86.06,11.4),(-86.53,11.81),(-86.75,12.14),(-87.17,12.46),(-87.67,12.91),(-87.56,13.06),(-87.39,12.91),(-87.32,12.98),(-87.49,13.3),(-87.79,13.38),(-87.9,13.15),(-88.48,13.16),(-88.84,13.26),(-89.26,13.46),(-89.81,13.52),(-90.1,13.74),(-90.61,13.91),(-91.23,13.93),(-91.69,14.13),(-92.23,14.54),(-93.36,15.62),(-93.88,15.94),(-94.69,16.2),(-95.25,16.13),(-96.05,15.75),(-96.56,15.65),(-97.26,15.92),(-98.01,16.11),(-98.95,16.57),(-99.7,16.71),(-100.83,17.17),(-101.67,17.65),(-101.92,17.92),(-102.48,17.98),(-103.5,18.29),(-103.92,18.75),(-104.99,19.32),(-105.49,19.95),(-105.73,20.43),(-105.4,20.53),(-105.5,20.82),(-105.27,21.08),(-105.27,21.42),(-105.6,21.87),(-105.69,22.27),(-106.03,22.77),(-106.91,23.77),(-107.92,24.55),(-108.4,25.17),(-109.26,25.58),(-109.44,25.82),(-109.29,26.44),(-109.8,26.68),(-110.39,27.16),(-110.64,27.86),(-111.18,27.94),(-111.76,28.47),(-112.23,28.95),(-112.27,29.27),(-112.81,30.02),(-113.16,30.79),(-113.15,31.17),(-113.87,31.57),(-114.21,31.52),(-114.78,31.8),(-114.94,31.39),(-114.77,30.91),(-114.67,30.16),(-114.33,29.75),(-113.59,29.06),(-113.42,28.83),(-113.27,28.75),(-113.14,28.41),(-112.96,28.43),(-112.76,27.78),(-112.46,27.53),(-112.24,27.17),(-111.62,26.66),(-111.28,25.73),(-110.99,25.29),(-110.71,24.83),(-110.66,24.3),(-110.17,24.27),(-109.77,23.81),(-109.41,23.36),(-109.43,23.19),(-109.85,22.82),(-110.03,22.82),(-110.3,23.43),(-110.95,24.0),(-111.67,24.48),(-112.18,24.74),(-112.15,25.47),(-112.3,26.01),(-113.46,26.77),(-113.6,26.64),(-113.85,26.9),(-114.47,27.14),(-115.06,27.72),(-114.98,27.8),(-114.57,27.74),(-114.2,28.12),(-114.16,28.57),(-114.93,29.28),(-115.52,29.56),(-115.89,30.18),(-116.26,30.84),(-116.72,31.64),(-117.13,32.54),(-117.3,33.05),(-117.94,33.62),(-118.41,33.74),(-118.52,34.03),(-119.08,34.08),(-119.44,34.35),(-120.37,34.45),(-120.62,34.61),(-120.74,35.16),(-121.71,36.16),(-122.55,37.55),(-122.51,37.78),(-122.95,38.11),(-123.73,38.95),(-123.87,39.77),(-124.4,40.31),(-124.18,41.14),(-124.21,41.99),(-124.53,42.77),(-124.14,43.71),(-124.02,44.62),(-123.9,45.52),(-124.08,46.86),(-124.4,47.72),(-124.69,48.18),(-124.57,48.38),(-123.12,48.04),(-122.59,47.1),(-122.34,47.36),(-122.5,48.18),(-122.84,49.0),(-124.91,49.98),(-125.62,50.42),(-127.44,50.83),(-127.99,51.72),(-127.85,52.33),(-129.13,52.76),(-129.31,53.56),(-130.51,54.29),(-130.54,54.8),(-131.09,55.18),(-131.97,55.5),(-132.25,56.37),(-133.54,57.18),(-134.08,58.12),(-135.04,58.19),(-136.63,58.21),(-137.8,58.5),(-139.87,59.54),(-142.57,60.08),(-143.96,60.0),(-145.93,60.46),(-147.11,60.88),(-148.22,60.67),(-148.02,59.98),(-148.57,59.91),(-149.73,59.71),(-150.61,59.37),(-151.72,59.16),(-151.86,59.74),(-151.41,60.73),(-150.35,61.03),(-150.62,61.28),(-151.9,60.73),(-152.58,60.06),(-154.02,59.35),(-153.29,58.86),(-154.23,58.15),(-155.31,57.73),(-156.31,57.42),(-156.56,56.98),(-158.12,56.46),(-158.43,55.99),(-159.6,55.57),(-160.29,55.64),(-161.22,55.36),(-162.24,55.02),(-163.07,54.69),(-164.79,54.4),(-164.94,54.57),(-163.85,55.04),(-162.87,55.35),(-161.8,55.89),(-160.56,56.01),(-160.07,56.42),(-158.68,57.02),(-158.46,57.22),(-157.72,57.57),(-157.55,58.33),(-157.04,58.92),(-158.19,58.62),(-158.52,58.79),(-159.06,58.42),(-159.71,58.93),(-159.98,58.57),(-160.36,59.07),(-161.36,58.67),(-161.97,58.67),(-162.05,59.27),(-161.87,59.63),(-162.52,59.99),(-163.82,59.8),(-164.66,60.27),(-165.35,60.51),(-165.35,61.07),(-166.12,61.5),(-165.73,62.07),(-164.92,62.63),(-164.56,63.15),(-163.75,63.22),(-163.07,63.06),(-162.26,63.54),(-161.53,63.46),(-160.77,63.77),(-160.96,64.22),(-161.52,64.4),(-160.78,64.79),(-161.39,64.78),(-162.45,64.56),(-162.76,64.34),(-163.55,64.56),(-164.96,64.45),(-166.43,64.69),(-166.85,65.09),(-168.11,65.67),(-166.71,66.09),(-164.47,66.58),(-163.65,66.58),(-163.79,66.08),(-161.68,66.12),(-162.49,66.74),(-163.72,67.12),(-164.43,67.62),(-165.39,68.04),(-166.76,68.36),(-166.2,68.88),(-164.43,68.92),(-163.17,69.37),(-162.93,69.86),(-161.91,70.33),(-160.93,70.45),(-159.04,70.89),(-158.12,70.82),(-156.58,71.36),
]
greenland = [(-46.76,82.63),(-43.41,83.23),(-39.9,83.18),(-38.62,83.55),(-35.09,83.65),(-27.1,83.52),(-20.85,82.73),(-22.69,82.34),(-26.52,82.3),(-31.9,82.2),(-31.4,82.02),(-27.86,82.13),(-24.84,81.79),(-22.9,82.09),(-22.07,81.73),(-23.17,81.15),(-20.62,81.52),(-15.77,81.91),(-12.77,81.72),(-12.21,81.29),(-16.29,80.58),(-16.85,80.35),(-20.05,80.18),(-17.73,80.13),(-18.9,79.4),(-19.7,78.75),(-19.67,77.64),(-18.47,76.99),(-20.04,76.94),(-21.68,76.63),(-19.83,76.1),(-19.6,75.25),(-20.67,75.16),(-19.37,74.3),(-21.59,74.22),(-20.43,73.82),(-20.76,73.46),(-22.17,73.31),(-23.57,73.31),(-22.31,72.63),(-22.3,72.18),(-24.28,72.6),(-24.79,72.33),(-23.44,72.08),(-22.13,71.47),(-21.75,70.66),(-23.54,70.47),(-24.31,70.86),(-25.54,71.43),(-25.2,70.75),(-26.36,70.23),(-23.73,70.18),(-22.35,70.13),(-25.03,69.26),(-27.75,68.47),(-30.67,68.12),(-31.78,68.12),(-32.81,67.74),(-34.2,66.68),(-36.35,65.98),(-39.81,65.46),(-40.67,64.84),(-40.68,64.14),(-41.19,63.48),(-42.82,62.68),(-42.42,61.9),(-42.87,61.07),(-43.38,60.1),(-44.79,60.04),(-46.26,60.85),(-48.26,60.86),(-49.23,61.41),(-49.9,62.38),(-51.63,63.63),(-52.14,64.28),(-52.28,65.18),(-53.66,66.1),(-53.3,66.84),(-53.97,67.19),(-52.98,68.36),(-51.48,68.73),(-51.08,69.15),(-50.87,69.93),(-52.01,69.57),(-52.56,69.43),(-53.46,69.28),(-54.68,69.61),(-54.75,70.29),(-54.36,70.82),(-53.43,70.84),(-51.39,70.57),(-53.11,71.2),(-54.0,71.55),(-55.0,71.41),(-55.83,71.65),(-54.72,72.59),(-55.33,72.96),(-56.12,73.65),(-57.32,74.71),(-58.6,75.1),(-58.59,75.52),(-61.27,76.1),(-63.39,76.18),(-66.06,76.13),(-68.5,76.06),(-69.66,76.38),(-71.4,77.01),(-68.78,77.32),(-66.76,77.38),(-71.04,77.64),(-73.3,78.04),(-73.16,78.43),(-69.37,78.91),(-65.71,79.39),(-65.32,79.76),(-68.02,80.12),(-67.15,80.52),(-63.69,81.21),(-62.23,81.32),(-62.65,81.77),(-60.28,82.03),(-57.21,82.19),(-54.13,82.2),(-53.04,81.89),(-50.39,82.44),(-48.0,82.06),(-46.6,81.99),(-44.52,81.66),(-46.9,82.2),(-46.76,82.63)]
canada_islands = [
    [(-85.83,73.8),(-86.56,73.16),(-85.77,72.53),(-84.85,73.34),(-82.32,73.75),(-80.6,72.72),(-80.75,72.06),(-78.77,72.35),(-77.82,72.75),(-75.61,72.24),(-74.23,71.77),(-74.1,71.33),(-72.24,71.56),(-71.2,70.92),(-68.79,70.53),(-67.91,70.12),(-66.97,69.19),(-68.81,68.72),(-66.45,68.07),(-64.86,67.85),(-63.42,66.93),(-61.85,66.86),(-62.16,66.16),(-63.92,65.0),(-65.15,65.43),(-66.72,66.39),(-68.01,66.26),(-68.14,65.69),(-67.09,65.11),(-65.73,64.65),(-65.32,64.38),(-64.67,63.39),(-65.01,62.67),(-66.28,62.95),(-68.78,63.75),(-67.37,62.88),(-66.33,62.28),(-66.17,61.93),(-68.88,62.33),(-71.02,62.91),(-72.24,63.4),(-71.89,63.68),(-73.38,64.19),(-74.83,64.68),(-74.82,64.39),(-77.71,64.23),(-78.56,64.57),(-77.9,65.31),(-76.02,65.33),(-73.96,65.45),(-74.29,65.81),(-73.94,66.31),(-72.65,67.28),(-72.93,67.73),(-73.31,68.07),(-74.84,68.55),(-76.87,68.89),(-76.23,69.15),(-77.29,69.77),(-78.17,69.83),(-78.96,70.17),(-79.49,69.87),(-81.31,69.74),(-84.94,69.97),(-87.06,70.26),(-88.68,70.41),(-89.51,70.76),(-88.47,71.22),(-89.89,71.22),(-90.21,72.24),(-89.44,73.13),(-88.41,73.54),(-85.83,73.8)],
    [(-105.5,72.7),(-104.5,71.0),(-101.0,70.0),(-102.7,69.5),(-105.8,69.2),(-109.0,68.8),(-113.3,68.5),(-116.1,69.2),(-117.3,70.0),(-113.7,70.2),(-112.4,70.4),(-114.3,70.6),(-117.9,70.5),(-118.4,71.3),(-115.2,71.8),(-118.6,72.3),(-114.1,73.1),(-110.0,72.96),(-108.2,71.65),(-107.5,73.2),(-105.5,72.7)],
    [(-121.5,74.45),(-117.55,74.19),(-116.6,73.9),(-115.5,73.47),(-119.2,72.52),(-120.46,71.82),(-120.46,71.38),(-123.09,70.9),(-123.62,71.34),(-125.93,71.87),(-125.5,72.29),(-124.8,73.02),(-123.94,73.68),(-124.92,74.29),(-121.5,74.45)],
    [(-93.2,72.77),(-94.27,72.02),(-95.41,72.06),(-96.03,72.94),(-95.5,73.86),(-94.5,74.13),(-92.42,74.1),(-90.5,73.86),(-92.0,72.97),(-93.2,72.77)],
    [(-100.4,72.7),(-102.5,72.83),(-100.0,73.85),(-97.0,73.5),(-97.1,72.8),(-98.0,71.3),(-99.3,71.36),(-100.4,72.7)],
    [(-108.55,76.68),(-108.21,76.2),(-107.82,75.85),(-106.93,76.01),(-105.68,75.48),(-106.3,75.01),(-109.7,74.85),(-112.22,74.42),(-113.74,74.39),(-113.87,74.72),(-111.79,75.16),(-116.31,75.04),(-117.71,75.22),(-116.35,76.2),(-115.4,76.48),(-112.59,76.14),(-110.81,75.55),(-109.07,75.47),(-110.5,76.43),(-109.58,76.79),(-108.55,76.68)],
    [(-68.5,83.11),(-61.9,82.63),(-61.85,82.0),(-64.33,81.93),(-66.75,81.73),(-67.66,81.5),(-65.48,81.51),(-67.84,80.9),(-69.47,80.62),(-71.18,79.8),(-73.88,79.43),(-76.91,79.32),(-75.53,78.9),(-76.22,78.76),(-75.4,78.53),(-76.34,78.18),(-77.89,77.9),(-78.36,77.51),(-79.76,77.21),(-79.62,76.98),(-77.91,77.02),(-77.89,76.78),(-80.56,76.18),(-83.17,76.45),(-86.11,76.3),(-87.6,76.42),(-89.49,76.47),(-89.62,76.95),(-87.77,77.18),(-88.26,77.9),(-87.65,77.97),(-84.98,77.54),(-86.34,78.18),(-87.96,78.37),(-87.15,78.76),(-85.38,79.0),(-85.09,79.35),(-86.51,79.74),(-86.93,80.25),(-84.2,80.21),(-83.41,80.1),(-81.85,80.46),(-84.1,80.58),(-87.6,80.52),(-89.37,80.86),(-90.2,81.26),(-91.37,81.55),(-91.59,81.89),(-90.1,82.09),(-88.93,82.12),(-86.97,82.28),(-85.5,82.65),(-84.26,82.6),(-83.18,82.32),(-82.42,82.86),(-81.1,83.02),(-79.31,83.13),(-76.25,83.17),(-75.72,83.06),(-72.83,83.23),(-70.67,83.17),(-68.5,83.11)],
    [(-79.83,74.92),(-80.46,74.66),(-81.95,74.44),(-83.23,74.56),(-86.1,74.41),(-88.15,74.39),(-89.76,74.52),(-92.42,74.84),(-92.77,75.39),(-92.89,75.88),(-93.89,76.32),(-95.96,76.44),(-97.12,76.75),(-96.75,77.16),(-94.68,77.1),(-93.57,76.78),(-91.61,76.78),(-90.74,76.45),(-90.97,76.07),(-89.82,75.85),(-89.19,75.61),(-87.84,75.57),(-86.38,75.48),(-84.79,75.7),(-82.75,75.78),(-81.13,75.71),(-80.06,75.34),(-79.83,74.92)],
    [(-87.81,80.32),(-87.02,79.66),(-85.81,79.34),(-87.19,79.04),(-89.04,78.29),(-90.8,78.22),(-92.88,78.34),(-93.95,78.75),(-93.94,79.11),(-93.15,79.38),(-94.97,79.37),(-96.08,79.7),(-96.71,80.16),(-96.02,80.6),(-95.32,80.91),(-94.3,80.98),(-94.74,81.21),(-92.41,81.26),(-91.13,80.72),(-89.45,80.51),(-87.81,80.32)],
    [(-116.2,77.65),(-116.34,76.88),(-117.11,76.53),(-118.04,76.48),(-119.9,76.05),(-121.5,75.9),(-122.85,76.12),(-121.16,76.86),(-119.1,77.51),(-117.57,77.5),(-116.2,77.65)],
    [(-98.5,76.72),(-97.7,76.26),(-97.7,75.74),(-98.16,75.0),(-99.81,74.9),(-100.88,75.06),(-100.86,75.64),(-102.5,75.56),(-102.57,76.34),(-101.49,76.31),(-99.98,76.65),(-98.58,76.59),(-98.5,76.72)],
    [(-85.16,65.66),(-84.98,65.22),(-84.46,65.37),(-83.88,65.11),(-82.79,64.77),(-81.64,64.46),(-81.55,63.98),(-80.82,64.06),(-80.1,63.73),(-80.99,63.41),(-82.55,63.65),(-83.11,64.1),(-84.1,63.57),(-85.52,63.05),(-85.87,63.64),(-87.22,63.54),(-86.35,64.04),(-86.22,64.82),(-85.88,65.74),(-85.16,65.66)],
    [(-55.6,51.32),(-56.13,50.69),(-56.8,49.81),(-56.14,50.15),(-55.47,49.94),(-55.82,49.59),(-54.94,49.31),(-54.47,49.56),(-53.48,49.25),(-53.79,48.52),(-53.09,48.69),(-52.96,48.16),(-52.65,47.54),(-53.07,46.66),(-53.52,46.62),(-54.18,46.81),(-53.96,47.63),(-54.24,47.75),(-55.4,46.88),(-56.0,46.92),(-55.29,47.39),(-56.25,47.63),(-57.33,47.57),(-59.27,47.6),(-59.42,47.9),(-58.8,48.25),(-59.23,48.52),(-58.39,49.13),(-57.36,50.72),(-56.74,51.29),(-55.87,51.63),(-55.41,51.59),(-55.6,51.32)],
    [(-123.51,48.51),(-124.01,48.37),(-125.66,48.83),(-125.95,49.18),(-126.85,49.53),(-127.03,49.81),(-128.06,49.99),(-128.44,50.54),(-128.36,50.77),(-127.31,50.55),(-126.7,50.4),(-125.76,50.3),(-125.42,49.95),(-124.92,49.48),(-123.92,49.06),(-123.51,48.51)],
    [(-132.71,54.04),(-131.75,54.12),(-132.05,52.98),(-131.18,52.18),(-131.58,52.18),(-132.18,52.64),(-132.55,53.1),(-133.05,53.41),(-133.24,53.85),(-133.18,54.17),(-132.71,54.04)],
    [(-64.17,49.96),(-62.86,49.71),(-61.84,49.29),(-61.81,49.11),(-62.29,49.09),(-63.59,49.4),(-64.52,49.87),(-64.17,49.96)],
]
caribbean = [
    [(-82.27,23.19),(-81.4,23.12),(-80.62,23.11),(-79.68,22.77),(-79.28,22.4),(-78.35,22.51),(-77.99,22.28),(-77.15,21.66),(-76.52,21.21),(-76.19,21.22),(-75.6,21.02),(-75.67,20.74),(-74.93,20.69),(-74.18,20.28),(-74.3,20.05),(-74.96,19.92),(-75.63,19.87),(-76.32,19.95),(-77.76,19.86),(-77.09,20.41),(-77.49,20.67),(-78.14,20.74),(-78.48,21.03),(-78.72,21.6),(-79.28,21.56),(-80.22,21.83),(-80.52,22.04),(-81.82,22.19),(-82.17,22.39),(-81.79,22.64),(-82.78,22.69),(-83.49,22.17),(-83.91,22.15),(-84.05,21.91),(-84.55,21.8),(-84.97,21.9),(-84.45,22.2),(-84.23,22.57),(-83.78,22.79),(-83.27,22.98),(-82.51,23.08),(-82.27,23.19)],
    [(-71.71,19.71),(-70.81,19.88),(-70.21,19.62),(-69.95,19.65),(-69.77,19.29),(-69.22,19.31),(-69.25,19.02),(-68.81,18.98),(-68.32,18.61),(-68.69,18.21),(-69.16,18.42),(-69.62,18.38),(-69.95,18.43),(-70.13,18.25),(-70.52,18.18),(-70.67,18.43),(-71.0,18.28),(-71.4,17.6),(-71.66,17.76),(-71.71,18.04),(-72.37,18.21),(-72.84,18.15),(-73.45,18.22),(-73.92,18.03),(-74.46,18.34),(-74.37,18.66),(-73.45,18.53),(-72.69,18.45),(-72.33,18.67),(-72.79,19.1),(-72.78,19.48),(-73.41,19.64),(-73.19,19.92),(-72.58,19.87),(-71.71,19.71)],
    [(-77.57,18.49),(-76.9,18.4),(-76.37,18.16),(-76.2,17.89),(-76.9,17.87),(-77.21,17.7),(-77.77,17.86),(-78.34,18.23),(-78.22,18.45),(-77.8,18.52),(-77.57,18.49)],
    [(-66.28,18.51),(-65.77,18.43),(-65.59,18.23),(-65.85,17.98),(-66.6,17.98),(-67.18,17.95),(-67.24,18.37),(-67.1,18.52),(-66.28,18.51)],
    [(-77.53,23.76),(-77.78,23.71),(-78.03,24.29),(-78.41,24.58),(-78.19,25.21),(-77.89,25.17),(-77.54,24.34),(-77.53,23.76)],
    [(-77.82,26.58),(-78.91,26.42),(-78.98,26.79),(-78.51,26.87),(-77.85,26.84),(-77.82,26.58)],
    [(-77.0,26.59),(-77.17,25.88),(-77.36,26.01),(-77.34,26.53),(-77.79,26.93),(-77.79,27.04),(-77.0,26.59)],
]
pacific_north = [
    [(-155.54,19.08),(-155.69,18.92),(-155.94,19.06),(-155.91,19.34),(-156.07,19.7),(-155.78,20.25),(-155.2,19.99),(-154.81,19.51),(-155.54,19.08)],
    [(-157.65,21.32),(-158.13,21.31),(-158.25,21.54),(-157.9,21.65),(-157.65,21.32)],
    [(-156.3,20.95),(-156.4,20.6),(-156.7,20.86),(-156.3,20.95)],
    [(-159.35,21.98),(-159.8,22.06),(-159.6,22.24),(-159.35,21.98)],
    [(-153.23,57.97),(-152.56,57.9),(-152.14,57.59),(-153.01,57.12),(-154.01,56.73),(-154.52,56.99),(-154.67,57.46),(-153.76,57.82),(-153.23,57.97)],
    [(-171.73,63.78),(-171.11,63.59),(-170.49,63.69),(-169.68,63.43),(-168.69,63.3),(-168.77,63.19),(-169.53,62.98),(-170.29,63.19),(-170.67,63.38),(-171.55,63.32),(-171.79,63.41),(-171.73,63.78)],
    [(-166.47,60.38),(-165.67,60.29),(-165.58,59.91),(-166.19,59.75),(-166.85,59.94),(-167.46,60.21),(-166.47,60.38)],
    [(180,71.52),(179.02,71.56),(178.73,71.1),(180,70.83),(180,71.52)],
    [(-180,71.52),(-178.69,70.89),(-180,70.83),(-180,71.52)],
]
russia_islands = [
    [(15.14,79.67),(15.52,80.02),(16.99,80.05),(18.25,79.7),(21.54,78.96),(19.03,78.56),(18.47,77.83),(17.59,77.64),(17.12,76.81),(15.91,76.77),(13.76,77.38),(14.67,77.74),(13.17,78.02),(11.22,78.87),(10.44,79.65),(13.17,80.01),(13.72,79.66),(15.14,79.67)],
    [(24.72,77.85),(22.49,77.44),(20.73,77.68),(21.42,77.94),(20.81,78.25),(22.88,78.45),(23.28,78.08),(24.72,77.85)],
    [(27.41,80.06),(25.92,79.52),(23.02,79.4),(20.08,79.57),(19.9,79.84),(18.46,79.86),(17.37,80.32),(20.46,80.6),(21.91,80.36),(22.92,80.66),(25.45,80.41),(27.41,80.06)],
    [(44.85,80.59),(46.8,80.77),(48.32,80.78),(48.52,80.51),(49.1,80.75),(50.04,80.92),(51.52,80.7),(51.14,80.55),(49.79,80.42),(48.89,80.34),(47.59,80.01),(46.5,80.25),(44.85,80.59)],
    [(51.46,72.01),(52.48,72.23),(52.44,72.77),(54.43,73.63),(53.51,73.75),(55.9,74.63),(55.63,75.08),(57.87,75.61),(61.17,76.25),(64.5,76.44),(66.21,76.81),(68.16,76.94),(68.85,76.54),(68.18,76.23),(64.64,75.74),(61.58,75.26),(58.48,74.31),(56.99,73.33),(55.42,72.37),(55.62,71.54),(57.54,70.72),(56.94,70.63),(53.68,70.76),(53.41,71.21),(51.6,71.47),(51.46,72.01)],
    [(143.6,73.21),(142.09,73.89),(140.04,73.32),(139.86,73.37),(140.81,73.77),(142.06,73.86),(143.6,73.21)],
    [(146.11,75.17),(144.3,75.0),(138.96,74.61),(136.97,75.26),(137.51,75.95),(138.83,76.14),(141.47,76.09),(145.09,75.56),(146.11,75.17)],
    [(146.36,75.5),(148.22,75.35),(150.73,75.08),(149.58,74.69),(147.98,74.78),(146.12,75.17),(146.36,75.5)],
    [(105.08,78.31),(99.44,77.92),(101.26,79.23),(102.84,79.28),(105.37,78.71),(105.08,78.31)],
    [(99.94,78.88),(97.76,78.76),(94.97,79.04),(93.31,79.43),(92.55,80.14),(91.18,80.34),(93.78,81.02),(95.94,81.25),(97.88,80.75),(100.19,79.78),(99.94,78.88)],
    [(143.65,50.75),(144.65,48.98),(143.17,49.31),(142.56,47.86),(143.53,46.84),(143.51,46.14),(142.75,46.74),(142.09,45.97),(141.91,46.81),(142.02,47.78),(141.9,48.86),(142.14,49.62),(142.18,50.95),(141.59,51.94),(141.68,53.3),(142.61,53.76),(142.21,54.23),(142.65,54.37),(143.26,52.74),(143.24,51.76),(143.65,50.75)],
]
europe_islands = [
    [(-14.5,66.46),(-14.74,65.81),(-13.61,65.13),(-14.91,64.36),(-17.79,63.68),(-19.97,63.64),(-22.76,63.96),(-21.78,64.4),(-23.96,64.89),(-22.18,65.08),(-22.23,65.38),(-24.33,65.61),(-23.65,66.26),(-22.13,66.41),(-20.58,65.73),(-19.06,66.28),(-17.8,65.99),(-16.21,66.53),(-14.5,66.46)],
    [(-3.01,58.63),(-4.07,57.55),(-3.06,57.69),(-1.96,57.68),(-2.22,56.87),(-3.12,55.97),(-2.09,55.91),(-1.11,54.62),(-0.43,54.46),(0.18,53.33),(0.47,52.93),(1.68,52.74),(1.56,52.1),(1.05,51.81),(1.45,51.29),(0.55,50.77),(-0.79,50.77),(-2.49,50.5),(-2.96,50.7),(-3.62,50.23),(-4.54,50.34),(-5.25,49.96),(-5.78,50.16),(-4.31,51.21),(-3.41,51.43),(-4.98,51.59),(-5.27,51.99),(-4.22,52.3),(-4.77,52.84),(-4.58,53.5),(-3.09,53.4),(-2.95,53.98),(-3.63,54.62),(-4.84,54.79),(-5.08,55.06),(-4.72,55.51),(-5.05,55.78),(-5.59,55.31),(-5.64,56.28),(-6.15,56.79),(-5.79,57.82),(-5.01,58.63),(-4.21,58.55),(-3.01,58.63)],
    [(-6.2,53.87),(-6.03,53.15),(-6.79,52.26),(-8.56,51.67),(-9.98,51.82),(-9.17,52.86),(-9.69,53.88),(-7.57,55.13),(-6.73,55.17),(-5.66,54.55),(-6.2,53.87)],
    [(15.52,38.23),(15.16,37.44),(15.31,37.13),(15.1,36.62),(14.33,37.0),(13.83,37.1),(12.43,37.61),(12.57,38.13),(13.74,38.03),(14.76,38.14),(15.52,38.23)],
    [(9.21,41.21),(9.81,40.5),(9.67,39.18),(9.21,39.24),(8.81,38.91),(8.43,39.17),(8.39,40.38),(8.16,40.95),(8.71,40.9),(9.21,41.21)],
    [(9.56,42.15),(9.23,41.38),(8.78,41.58),(8.54,42.26),(8.75,42.63),(9.39,43.01),(9.56,42.15)],
    [(23.7,35.71),(24.25,35.37),(25.03,35.42),(25.77,35.35),(25.75,35.18),(26.29,35.3),(26.16,35.0),(24.72,34.92),(24.74,35.08),(23.51,35.28),(23.7,35.71)],
    [(34.58,35.67),(33.9,35.25),(34.0,34.98),(33.38,34.8),(32.98,34.57),(32.49,34.7),(32.26,35.1),(33.0,35.39),(33.67,35.37),(34.58,35.67)],
    [(12.69,55.61),(12.09,54.8),(11.04,55.36),(10.9,55.78),(12.37,56.11),(12.69,55.61)],
]
asia_islands = [
    [(143.91,44.17),(144.61,43.96),(145.32,44.38),(145.54,43.26),(144.06,42.99),(143.18,41.99),(141.61,42.68),(141.07,41.58),(140.0,41.57),(140.31,43.33),(141.38,43.39),(141.67,44.77),(141.97,45.55),(143.14,44.51),(143.91,44.17)],
    [(141.88,39.18),(140.96,38.17),(140.98,37.14),(140.6,36.34),(140.77,35.84),(140.25,35.14),(138.98,34.67),(137.22,34.61),(135.79,33.46),(135.12,33.85),(135.08,34.6),(133.34,34.38),(132.16,33.9),(130.99,33.89),(132.0,33.15),(131.33,31.45),(130.69,31.03),(130.2,31.42),(130.45,32.32),(129.81,32.61),(129.41,33.3),(130.35,33.6),(130.88,34.23),(131.88,34.75),(132.62,35.43),(134.61,35.73),(135.68,35.53),(136.72,37.3),(137.39,36.83),(138.86,37.83),(139.43,38.22),(140.05,39.44),(139.88,40.56),(140.31,41.2),(141.37,41.38),(141.91,39.99),(141.88,39.18)],
    [(134.64,34.15),(134.77,33.81),(134.2,33.2),(133.79,33.52),(133.28,33.29),(133.01,32.7),(132.36,32.99),(132.37,33.46),(132.92,34.06),(133.49,33.94),(133.9,34.36),(134.64,34.15)],
    [(121.78,24.39),(120.75,21.97),(120.22,22.81),(120.11,23.56),(120.69,24.54),(121.5,25.3),(121.95,24.99),(121.78,24.39)],
    [(110.34,18.68),(109.48,18.2),(108.66,18.51),(108.63,19.37),(109.12,19.82),(110.21,20.1),(110.79,20.08),(111.01,19.7),(110.57,19.26),(110.34,18.68)],
    [(81.79,7.52),(81.64,6.48),(81.22,6.2),(80.35,5.97),(79.87,6.76),(79.7,8.2),(80.15,9.82),(80.84,9.27),(81.3,8.56),(81.79,7.52)],
    [(120.72,18.51),(122.24,18.48),(122.34,18.22),(122.17,17.81),(122.52,17.09),(122.25,16.26),(121.66,15.93),(121.51,15.12),(121.73,14.33),(122.26,14.22),(122.7,14.34),(123.95,13.78),(123.86,13.24),(124.18,12.99),(124.08,12.54),(123.3,13.03),(122.93,13.55),(122.67,13.19),(122.03,13.78),(121.13,13.64),(120.63,13.86),(120.68,14.27),(120.99,14.53),(120.69,14.76),(120.56,14.4),(120.07,14.97),(119.92,15.41),(119.88,16.36),(120.29,16.03),(120.39,17.6),(120.72,18.51)],
    [(126.38,8.41),(126.48,7.75),(126.54,7.19),(126.2,6.27),(125.83,7.29),(125.36,6.79),(125.68,6.05),(125.4,5.58),(124.22,6.16),(123.94,6.89),(124.24,7.36),(123.61,7.83),(123.3,7.42),(122.83,7.46),(122.09,6.9),(121.92,7.19),(122.31,8.03),(122.94,8.32),(123.49,8.69),(123.84,8.24),(124.6,8.51),(124.76,8.96),(125.47,8.99),(125.41,9.76),(126.22,9.29),(126.31,8.78),(126.38,8.41)],
    [(123.98,10.28),(123.62,9.95),(123.31,9.32),(122.96,9.02),(122.38,9.71),(122.59,9.98),(122.84,10.26),(122.95,10.88),(123.5,10.94),(123.34,10.27),(124.08,11.23),(123.98,10.28)],
    [(125.23,12.54),(125.5,12.16),(125.78,11.05),(125.01,11.31),(125.03,10.98),(125.28,10.36),(124.8,10.13),(124.76,10.84),(124.46,10.89),(124.3,11.5),(124.88,11.79),(124.88,12.0),(124.27,12.56),(125.23,12.54)],
    [(119.69,10.55),(119.03,10.0),(118.5,9.32),(117.17,8.37),(117.66,9.07),(118.39,9.68),(118.99,10.38),(119.51,11.37),(119.69,10.55)],
    [(122.34,11.58),(123.12,11.58),(123.1,11.17),(122.64,10.74),(122.0,10.44),(121.97,10.91),(122.04,11.42),(122.34,11.58)],
    [(121.53,13.07),(121.26,12.21),(120.83,12.7),(120.32,13.47),(121.18,13.43),(121.53,13.07)],
    [(105.82,-5.85),(104.71,-5.87),(103.87,-5.04),(102.58,-4.22),(102.16,-3.61),(101.4,-2.8),(100.9,-2.05),(100.14,-0.65),(99.26,0.18),(98.97,1.04),(98.6,1.82),(97.7,2.45),(97.18,3.31),(96.42,3.87),(95.38,4.97),(95.29,5.48),(95.94,5.44),(97.48,5.25),(98.37,4.27),(99.14,3.59),(99.69,3.17),(100.64,2.1),(101.66,2.08),(102.5,1.4),(103.08,0.56),(103.84,0.1),(103.44,-0.71),(104.01,-1.06),(104.37,-1.08),(104.54,-1.78),(104.89,-2.34),(105.62,-2.43),(106.11,-3.06),(105.86,-4.31),(105.82,-5.85)],
    [(108.49,-6.42),(108.62,-6.78),(110.54,-6.88),(110.76,-6.47),(112.61,-6.95),(112.98,-7.59),(114.48,-7.78),(115.71,-8.37),(114.56,-8.75),(113.46,-8.35),(112.56,-8.38),(111.52,-8.3),(110.59,-8.12),(109.43,-7.74),(108.69,-7.64),(108.28,-7.77),(106.45,-7.35),(106.28,-6.92),(105.37,-6.85),(106.05,-5.9),(107.27,-5.95),(108.07,-6.35),(108.49,-6.42)],
    [(117.88,4.14),(117.31,3.23),(118.05,2.29),(117.88,1.83),(118.99,0.9),(117.81,0.78),(117.48,0.1),(117.52,-0.8),(116.56,-1.49),(116.53,-2.48),(116.15,-4.01),(116.0,-3.66),(114.86,-4.11),(114.47,-3.5),(113.76,-3.44),(113.26,-3.12),(112.07,-3.48),(111.7,-2.99),(111.05,-3.05),(110.22,-2.93),(110.07,-1.59),(109.57,-1.31),(109.09,-0.46),(108.95,0.42),(109.07,1.34),(109.66,2.01),(109.83,1.34),(110.51,1.56),(111.17,1.85),(111.37,2.7),(111.8,2.89),(113.0,3.1),(113.71,3.89),(114.2,4.53),(114.6,4.9),(115.45,5.45),(116.22,6.14),(116.73,6.92),(117.13,6.93),(117.64,6.42),(117.69,5.99),(118.35,5.71),(119.18,5.41),(119.11,5.02),(118.44,4.97),(118.62,4.48),(117.88,4.14)],
    [(125.07,1.64),(125.24,1.42),(124.44,0.43),(123.69,0.24),(122.72,0.43),(121.06,0.38),(120.18,0.24),(120.04,-0.52),(120.94,-1.41),(121.48,-0.96),(123.34,-0.62),(123.26,-1.08),(122.82,-0.93),(122.39,-1.52),(121.51,-1.9),(122.45,-3.19),(122.27,-3.53),(123.17,-4.68),(123.16,-5.34),(122.63,-5.63),(122.24,-5.28),(122.72,-4.46),(121.74,-4.85),(121.49,-4.57),(121.62,-4.19),(120.9,-3.6),(120.97,-2.63),(120.31,-2.93),(120.39,-4.1),(120.43,-5.53),(119.8,-5.67),(119.37,-5.38),(119.65,-4.46),(119.5,-3.49),(119.08,-3.49),(118.77,-2.8),(119.18,-2.15),(119.32,-1.35),(119.83,0.15),(120.04,0.57),(120.89,1.31),(121.67,1.01),(122.93,0.88),(124.08,0.92),(125.07,1.64)],
    [(127.93,2.17),(128.0,1.63),(128.59,1.54),(128.69,1.13),(128.64,0.26),(128.12,0.36),(127.97,-0.25),(128.38,-0.78),(128.1,-0.9),(127.7,-0.27),(127.4,1.01),(127.6,1.81),(127.93,2.17)],
    [(129.37,-2.8),(130.47,-3.09),(130.83,-3.86),(129.99,-3.45),(129.16,-3.36),(128.59,-3.43),(127.9,-3.39),(128.14,-2.84),(129.37,-2.8)],
    [(126.87,-3.79),(126.18,-3.61),(125.99,-3.18),(127.0,-3.13),(127.25,-3.46),(126.87,-3.79)],
    [(124.97,-8.89),(125.09,-8.66),(125.95,-8.43),(126.64,-8.4),(126.96,-8.27),(127.34,-8.4),(126.97,-8.67),(125.93,-9.11),(125.09,-9.39),(124.44,-10.14),(123.58,-10.36),(123.46,-10.24),(123.55,-9.9),(123.98,-9.29),(124.97,-8.89)],
    [(119.9,-8.44),(120.72,-8.24),(121.34,-8.54),(122.01,-8.46),(122.9,-8.09),(122.76,-8.65),(121.25,-8.93),(119.92,-8.81),(119.9,-8.44)],
    [(118.26,-8.36),(118.88,-8.28),(119.13,-8.71),(117.67,-9.04),(116.74,-9.03),(117.08,-8.46),(117.63,-8.45),(117.9,-8.1),(118.26,-8.36)],
    [(120.72,-10.24),(120.3,-10.26),(118.97,-9.56),(119.9,-9.36),(120.43,-9.67),(120.78,-9.97),(120.72,-10.24)],
]
oceania = [
    [(134.14,-1.15),(134.42,-2.77),(135.46,-3.37),(136.29,-2.31),(137.44,-1.7),(138.33,-1.7),(139.18,-2.05),(139.93,-2.41),(141.0,-2.6),(142.74,-3.29),(144.58,-3.86),(145.27,-4.37),(145.83,-4.88),(145.98,-5.47),(147.65,-6.08),(147.89,-6.61),(146.97,-6.72),(147.19,-7.39),(148.08,-8.04),(148.73,-9.1),(149.31,-9.07),(149.27,-9.51),(150.04,-9.68),(149.74,-9.87),(150.8,-10.29),(150.69,-10.58),(150.03,-10.65),(149.78,-10.39),(148.92,-10.28),(147.91,-10.13),(147.14,-9.49),(146.57,-8.94),(146.05,-8.07),(144.74,-7.63),(143.9,-7.92),(143.29,-8.25),(143.41,-8.98),(142.63,-9.33),(142.07,-9.16),(141.03,-9.12),(139.13,-8.1),(138.88,-8.38),(138.67,-7.32),(138.41,-6.23),(137.93,-5.39),(135.99,-4.55),(135.16,-4.46),(133.66,-3.54),(133.37,-4.02),(132.98,-4.11),(132.76,-3.75),(132.75,-3.31),(131.99,-2.82),(133.07,-2.46),(133.78,-2.48),(133.7,-2.21),(132.23,-2.21),(131.84,-1.62),(130.94,-1.43),(130.52,-0.94),(131.87,-0.7),(132.38,-0.37),(133.99,-0.78),(134.14,-1.15)],
    [(152.24,-4.15),(152.34,-4.31),(152.32,-4.87),(151.98,-5.48),(151.46,-5.56),(151.3,-5.84),(150.24,-6.32),(149.71,-6.32),(148.89,-6.03),(148.32,-5.75),(148.4,-5.44),(149.3,-5.58),(149.85,-5.51),(150.0,-5.03),(150.14,-5.0),(150.24,-5.53),(150.81,-5.46),(151.09,-5.11),(151.65,-4.76),(151.54,-4.17),(152.14,-4.15),(152.24,-4.15)],
    [(150.94,-2.5),(152.24,-3.24),(153.02,-3.98),(153.14,-4.5),(152.83,-4.77),(152.64,-4.18),(152.41,-3.79),(151.38,-3.04),(150.66,-2.74),(150.94,-2.5)],
    [(161.32,-10.2),(161.92,-10.45),(162.12,-10.48),(162.4,-10.83),(161.7,-10.82),(161.32,-10.2)],
    [(160.85,-9.87),(160.46,-9.9),(159.85,-9.79),(159.64,-9.64),(159.7,-9.24),(160.36,-9.4),(160.69,-9.61),(160.85,-9.87)],
    [(161.68,-9.6),(161.53,-9.78),(160.79,-8.92),(160.58,-8.32),(160.92,-8.32),(161.28,-9.12),(161.68,-9.6)],
    [(159.88,-8.34),(159.92,-8.54),(159.13,-8.11),(158.59,-7.75),(158.21,-7.42),(158.36,-7.32),(158.82,-7.56),(159.64,-8.02),(159.88,-8.34)],
    [(157.54,-7.35),(157.34,-7.4),(156.9,-7.18),(156.49,-6.77),(156.54,-6.6),(157.14,-7.02),(157.54,-7.35)],
    [(167.84,-16.47),(167.52,-16.6),(167.18,-16.16),(167.22,-15.89),(167.84,-16.47)],
    [(167.11,-14.93),(167.27,-15.74),(166.79,-15.67),(166.65,-15.39),(166.63,-14.63),(167.11,-14.93)],
    [(165.78,-21.08),(166.6,-21.7),(167.12,-22.16),(166.74,-22.4),(166.19,-22.13),(165.47,-21.68),(164.83,-21.15),(164.17,-20.44),(164.03,-20.11),(164.46,-20.12),(165.02,-20.46),(165.46,-20.8),(165.78,-21.08)],
    [(178.37,-17.34),(178.72,-17.63),(178.55,-18.15),(177.93,-18.29),(177.38,-18.16),(177.29,-17.72),(177.67,-17.38),(178.13,-17.5),(178.37,-17.34)],
    [(179.36,-16.8),(178.73,-17.01),(178.6,-16.64),(179.1,-16.43),(179.41,-16.38),(180,-16.07),(180,-16.56),(179.36,-16.8)],
    [(-180,-16.07),(-179.79,-16.02),(-179.92,-16.5),(-180,-16.56),(-180,-16.07)],
    [(142.53,-10.67),(143.56,-13.76),(143.92,-14.55),(144.56,-14.17),(145.37,-14.98),(145.27,-15.43),(145.49,-16.29),(146.16,-18.01),(146.39,-19.0),(147.47,-19.48),(148.18,-19.96),(148.85,-20.39),(148.72,-20.63),(149.29,-21.26),(149.68,-22.34),(150.08,-22.12),(150.48,-22.56),(150.73,-23.46),(150.9,-23.46),(151.61,-24.08),(152.07,-24.46),(152.86,-25.27),(153.14,-26.07),(153.16,-26.64),(153.09,-27.26),(153.57,-28.11),(153.51,-28.99),(153.34,-29.46),(153.07,-30.35),(153.09,-30.92),(152.89,-31.64),(152.45,-32.55),(151.71,-33.04),(151.34,-33.82),(151.01,-34.31),(150.71,-35.17),(150.33,-35.67),(150.08,-36.42),(149.95,-37.11),(149.99,-37.43),(149.42,-37.77),(148.3,-37.81),(147.38,-38.22),(146.92,-38.61),(146.32,-39.04),(145.49,-38.59),(144.88,-38.42),(145.32,-38.09),(144.88,-38.42),(143.61,-38.81),(142.75,-38.54),(142.18,-38.38),(141.61,-38.31),(140.64,-38.02),(139.99,-37.4),(139.81,-36.64),(139.57,-36.14),(139.08,-35.73),(138.12,-35.61),(138.45,-35.13),(138.21,-34.38),(137.72,-35.08),(136.83,-35.26),(137.35,-34.71),(137.5,-34.13),(137.89,-33.64),(137.81,-32.9),(136.99,-33.75),(136.37,-34.09),(135.99,-34.89),(135.21,-34.48),(135.24,-33.95),(134.61,-33.22),(134.09,-32.85),(134.27,-32.62),(132.99,-32.01),(132.29,-31.98),(131.33,-31.5),(129.54,-31.59),(128.24,-31.95),(127.1,-32.28),(126.15,-32.22),(125.09,-32.73),(124.22,-32.96),(124.03,-33.48),(123.66,-33.89),(122.81,-33.91),(122.18,-34.0),(121.3,-33.82),(120.58,-33.93),(119.89,-33.98),(119.3,-34.51),(119.01,-34.46),(118.51,-34.75),(118.02,-35.06),(117.3,-35.03),(116.63,-35.03),(115.56,-34.39),(115.03,-34.2),(115.05,-33.62),(115.55,-33.49),(115.71,-33.26),(115.68,-32.9),(115.8,-32.21),(115.69,-31.61),(115.16,-30.6),(115.0,-30.03),(115.04,-29.46),(114.64,-28.81),(114.62,-28.52),(114.17,-28.12),(114.05,-27.33),(113.48,-26.54),(113.34,-26.12),(113.78,-26.55),(113.44,-25.62),(113.94,-25.91),(114.23,-26.3),(114.22,-25.79),(113.72,-24.99),(113.63,-24.68),(113.39,-24.38),(113.5,-23.81),(113.71,-23.56),(113.84,-23.06),(113.74,-22.48),(114.15,-21.76),(114.23,-22.52),(114.65,-21.83),(115.46,-21.5),(115.95,-21.07),(116.71,-20.7),(117.17,-20.62),(117.44,-20.75),(118.23,-20.37),(118.84,-20.26),(118.99,-20.04),(119.25,-19.95),(119.81,-19.98),(120.86,-19.68),(121.4,-19.24),(121.66,-18.71),(122.24,-18.2),(122.29,-17.8),(122.31,-17.25),(123.01,-16.41),(123.43,-17.27),(123.86,-17.07),(123.5,-16.6),(123.82,-16.11),(124.26,-16.33),(124.38,-15.57),(124.93,-15.08),(125.17,-14.68),(125.67,-14.51),(125.69,-14.23),(126.13,-14.35),(126.14,-14.1),(126.58,-13.95),(127.07,-13.82),(127.8,-14.28),(128.36,-14.87),(128.99,-14.88),(129.62,-14.97),(129.41,-14.42),(129.89,-13.62),(130.34,-13.36),(130.18,-13.11),(130.62,-12.54),(131.22,-12.18),(131.74,-12.28),(132.58,-12.11),(132.56,-11.6),(131.82,-11.27),(132.36,-11.13),(133.02,-11.38),(133.55,-11.79),(134.39,-12.04),(134.68,-11.94),(135.3,-12.25),(135.88,-11.96),(136.26,-12.05),(136.49,-11.86),(136.95,-12.35),(136.69,-12.89),(136.31,-13.29),(135.96,-13.32),(136.08,-13.72),(135.78,-14.22),(135.43,-14.72),(135.5,-14.99),(136.3,-15.55),(137.07,-15.87),(137.58,-16.22),(138.3,-16.81),(138.59,-16.81),(139.11,-17.06),(139.26,-17.37),(140.22,-17.71),(140.88,-17.37),(141.07,-16.83),(141.27,-16.39),(141.4,-15.84),(141.7,-15.04),(141.56,-14.56),(141.64,-14.27),(141.52,-13.7),(141.65,-12.94),(141.84,-12.74),(141.69,-12.41),(141.93,-11.88),(142.12,-11.33),(142.14,-11.04),(142.53,-10.67)],
    [(147.69,-40.81),(148.29,-40.88),(148.36,-42.06),(148.02,-42.41),(147.91,-43.21),(147.56,-42.94),(146.87,-43.63),(146.66,-43.58),(146.05,-43.55),(145.43,-42.69),(145.3,-42.03),(144.72,-41.16),(144.74,-40.7),(145.4,-40.79),(146.36,-41.14),(146.91,-41.0),(147.69,-40.81)],
    [(172.8,-40.49),(173.02,-40.92),(173.25,-41.33),(173.96,-40.93),(174.25,-41.35),(174.25,-41.77),(173.88,-42.23),(173.22,-42.97),(172.71,-43.37),(173.08,-43.85),(172.31,-43.87),(171.45,-44.24),(171.19,-44.9),(170.62,-45.91),(169.83,-46.36),(169.33,-46.64),(168.41,-46.62),(167.76,-46.29),(166.68,-46.22),(166.51,-45.85),(167.05,-45.11),(168.3,-44.12),(168.95,-43.94),(169.67,-43.56),(170.52,-43.03),(171.13,-42.51),(171.57,-41.77),(171.95,-41.51),(172.1,-40.96),(172.8,-40.49)],
    [(174.61,-36.16),(175.34,-37.21),(175.36,-36.53),(175.81,-36.8),(175.96,-37.56),(176.76,-37.88),(177.44,-37.96),(178.01,-37.58),(178.52,-37.7),(178.27,-38.58),(177.97,-39.17),(177.21,-39.15),(176.94,-39.45),(177.03,-39.88),(176.89,-40.07),(176.51,-40.6),(176.01,-41.29),(175.24,-41.69),(175.07,-41.43),(174.65,-41.28),(175.23,-40.46),(174.9,-39.91),(173.82,-39.51),(173.85,-39.15),(174.57,-38.8),(174.74,-38.03),(174.7,-37.38),(174.29,-36.71),(174.32,-36.53),(173.84,-36.12),(173.05,-35.24),(172.64,-34.53),(173.01,-34.45),(173.55,-35.01),(174.33,-35.27),(174.61,-36.16)],
]
south_islands = [
    [(49.54,-12.47),(49.81,-12.9),(50.06,-13.56),(50.22,-14.76),(50.48,-15.23),(50.38,-15.71),(50.2,-16.0),(49.86,-15.41),(49.67,-15.71),(49.86,-16.45),(49.77,-16.88),(49.5,-17.11),(49.44,-17.95),(49.04,-19.12),(48.55,-20.5),(47.93,-22.39),(47.55,-23.78),(47.1,-24.94),(46.28,-25.18),(45.41,-25.6),(44.83,-25.35),(44.04,-24.99),(43.76,-24.46),(43.7,-23.57),(43.35,-22.78),(43.25,-22.06),(43.43,-21.34),(43.89,-21.16),(43.9,-20.83),(44.37,-20.07),(44.46,-19.44),(44.23,-18.96),(44.04,-18.33),(43.96,-17.41),(44.31,-16.85),(44.45,-16.22),(44.94,-16.18),(45.5,-15.97),(45.87,-15.79),(46.31,-15.78),(46.88,-15.21),(47.71,-14.59),(48.01,-14.09),(47.87,-13.66),(48.29,-13.78),(48.85,-13.09),(48.86,-12.49),(49.19,-12.04),(49.54,-12.47)],
    [(68.94,-48.63),(69.58,-48.94),(70.53,-49.06),(70.56,-49.25),(70.28,-49.71),(68.75,-49.77),(68.72,-49.24),(68.87,-48.83),(68.94,-48.63)],
    [(-61.2,-51.85),(-60.0,-51.25),(-59.15,-51.5),(-58.55,-51.1),(-57.75,-51.55),(-58.05,-51.9),(-59.4,-52.2),(-59.85,-51.85),(-60.7,-52.3),(-61.2,-51.85)],
    [(-68.63,-52.64),(-68.25,-53.1),(-67.75,-53.85),(-66.45,-54.45),(-65.05,-54.7),(-65.5,-55.2),(-66.45,-55.25),(-66.96,-54.9),(-67.56,-54.87),(-68.63,-54.87),(-68.63,-52.64)],
    [(-45.15,-78.05),(-43.92,-78.48),(-43.49,-79.09),(-43.37,-79.52),(-43.33,-80.03),(-44.88,-80.34),(-46.51,-80.59),(-48.39,-80.83),(-50.48,-81.03),(-52.85,-80.97),(-54.16,-80.63),(-53.99,-80.22),(-51.85,-79.95),(-50.99,-79.61),(-50.36,-79.18),(-49.91,-78.81),(-49.31,-78.46),(-48.66,-78.05),(-48.15,-78.05),(-46.66,-77.83),(-45.15,-78.05)],
    [(-59.57,-80.04),(-59.87,-80.55),(-60.16,-81.0),(-62.26,-80.86),(-64.49,-80.92),(-65.74,-80.59),(-66.29,-80.26),(-64.04,-80.29),(-61.88,-80.39),(-61.14,-79.98),(-60.61,-79.63),(-59.57,-80.04)],
    [(-103.68,-71.62),(-102.33,-71.89),(-101.7,-71.72),(-100.43,-71.85),(-98.98,-71.93),(-97.88,-72.07),(-96.79,-71.95),(-96.2,-72.52),(-96.98,-72.44),(-98.2,-72.48),(-99.43,-72.44),(-100.78,-72.5),(-101.8,-72.31),(-103.68,-71.62)],
    [(-122.62,-73.66),(-122.41,-73.32),(-121.21,-73.5),(-119.92,-73.66),(-118.72,-73.48),(-119.29,-73.83),(-120.23,-74.09),(-121.62,-74.01),(-122.62,-73.66)],
    [(-125.56,-73.48),(-124.03,-73.87),(-125.91,-73.74),(-127.28,-73.46),(-126.56,-73.25),(-125.56,-73.48)],
    [(-163.11,-78.22),(-161.25,-78.38),(-160.25,-78.69),(-159.48,-79.05),(-159.21,-79.5),(-161.13,-79.63),(-162.44,-79.28),(-163.03,-78.93),(-163.71,-78.6),(-163.11,-78.22)],
    [(-70.25,-68.87),(-69.72,-69.25),(-69.49,-69.62),(-69.06,-70.07),(-68.73,-70.51),(-68.45,-70.96),(-68.33,-71.41),(-68.51,-71.8),(-68.78,-72.17),(-69.96,-72.31),(-71.08,-72.5),(-72.39,-72.48),(-71.9,-72.09),(-73.07,-72.23),(-74.19,-72.37),(-74.95,-72.07),(-75.01,-71.66),(-73.91,-71.27),(-73.23,-71.15),(-72.07,-71.19),(-71.78,-70.68),(-71.74,-69.51),(-71.17,-69.04),(-70.25,-68.87)],
]
antarctica = [
    (-180,-90),(-180,-84.71),(-179.06,-84.14),(-177.26,-84.45),(-176.08,-84.1),(-175.83,-84.12),(-174.38,-84.53),(-173.12,-84.12),(-172.89,-84.06),(-169.95,-83.88),(-168.53,-84.24),(-167.02,-84.57),(-164.18,-84.83),(-161.93,-85.14),(-158.07,-85.37),(-155.19,-85.1),(-150.94,-85.3),(-148.53,-85.61),(-145.89,-85.32),(-143.11,-85.04),(-142.89,-84.57),(-146.83,-84.53),(-150.06,-84.3),(-150.9,-83.9),(-153.59,-83.69),(-153.41,-83.24),(-153.04,-82.83),(-152.67,-82.45),(-152.86,-82.04),(-154.53,-81.77),(-155.29,-81.42),(-156.84,-81.1),(-154.41,-81.16),(-152.1,-81.0),(-150.65,-81.34),(-148.87,-81.04),(-147.22,-80.67),(-146.42,-80.34),(-146.77,-79.93),(-148.06,-79.65),(-149.53,-79.36),(-151.59,-79.3),(-153.39,-79.16),(-155.33,-79.06),(-155.98,-78.69),(-157.27,-78.38),(-158.05,-78.03),(-158.37,-76.89),(-157.88,-76.99),(-156.97,-77.3),(-155.33,-77.2),(-153.74,-77.07),(-152.92,-77.5),(-151.33,-77.4),(-150.0,-77.18),(-148.75,-76.91),(-147.61,-76.58),(-146.1,-76.48),(-146.14,-76.1),(-146.5,-75.73),(-146.2,-75.38),(-144.91,-75.2),(-144.32,-75.54),(-142.79,-75.34),(-141.64,-75.09),(-140.21,-75.07),(-138.86,-74.97),(-137.51,-74.73),(-136.43,-74.52),(-135.21,-74.3),(-134.43,-74.36),(-133.75,-74.44),(-132.26,-74.3),(-130.93,-74.48),(-129.55,-74.46),(-128.24,-74.32),(-126.89,-74.42),(-125.4,-74.52),(-124.01,-74.48),(-122.56,-74.5),(-121.07,-74.52),(-119.7,-74.48),(-118.68,-74.19),(-117.47,-74.03),(-116.22,-74.24),(-115.02,-74.07),(-113.94,-73.71),(-113.3,-74.03),(-112.95,-74.38),(-112.3,-74.71),(-111.26,-74.42),(-110.07,-74.79),(-108.71,-74.91),(-107.56,-75.18),(-106.15,-75.13),(-104.88,-74.95),(-103.37,-74.99),(-102.02,-75.13),(-100.65,-75.3),(-100.12,-74.87),(-100.76,-74.54),(-101.25,-74.19),(-102.55,-74.11),(-103.11,-73.73),(-103.33,-73.36),(-103.68,-72.62),(-102.92,-72.75),(-101.61,-72.81),(-100.31,-72.75),(-99.14,-72.91),(-98.12,-73.21),(-97.69,-73.56),(-96.34,-73.62),(-95.04,-73.48),(-93.67,-73.28),(-92.44,-73.17),(-91.42,-73.4),(-90.09,-73.32),(-89.23,-72.56),(-88.42,-73.01),(-87.27,-73.19),(-86.01,-73.09),(-85.19,-73.48),(-83.88,-73.52),(-82.67,-73.64),(-81.47,-73.85),(-80.69,-73.48),(-80.3,-73.13),(-79.3,-73.52),(-77.93,-73.42),(-76.91,-73.64),(-76.22,-73.97),(-74.89,-73.87),(-73.85,-73.66),(-72.83,-73.4),(-71.62,-73.26),(-70.21,-73.15),(-68.94,-73.01),(-67.96,-72.79),(-67.37,-72.48),(-67.13,-72.05),(-67.25,-71.64),(-67.56,-71.25),(-67.91,-70.85),(-68.23,-70.46),(-68.49,-70.11),(-68.54,-69.72),(-68.45,-69.33),(-67.98,-68.95),(-67.58,-68.54),(-67.43,-68.15),(-67.62,-67.72),(-67.74,-67.33),(-67.25,-66.88),(-66.7,-66.58),(-65.37,-65.9),(-64.57,-65.6),(-64.18,-65.17),(-63.63,-64.9),(-63.0,-64.64),(-62.04,-64.58),(-61.41,-64.27),(-60.71,-64.07),(-59.89,-63.96),(-59.16,-63.7),(-58.59,-63.39),(-57.81,-63.27),(-57.22,-63.53),(-57.6,-63.86),(-58.61,-64.15),(-59.05,-64.37),(-59.79,-64.21),(-60.61,-64.31),(-61.3,-64.54),(-62.02,-64.8),(-62.51,-65.09),(-62.65,-65.48),(-62.59,-65.86),(-62.12,-66.19),(-62.81,-66.43),(-63.75,-66.5),(-64.29,-66.84),(-64.88,-67.15),(-65.51,-67.58),(-65.67,-67.95),(-65.31,-68.36),(-64.78,-68.68),(-63.96,-68.91),(-63.2,-69.23),(-62.79,-69.62),(-62.57,-69.99),(-62.28,-70.38),(-61.81,-70.72),(-61.51,-71.09),(-61.38,-72.01),(-61.08,-72.38),(-61.0,-72.77),(-60.69,-73.17),(-60.83,-73.7),(-61.38,-74.11),(-61.96,-74.44),(-63.3,-74.58),(-63.75,-74.93),(-64.35,-75.26),(-65.86,-75.64),(-67.19,-75.79),(-68.45,-76.01),(-69.8,-76.22),(-70.6,-76.63),(-72.21,-76.67),(-73.97,-76.64),(-75.56,-76.71),(-77.24,-76.71),(-76.93,-77.1),(-75.4,-77.28),(-74.28,-77.55),(-73.66,-77.91),(-74.77,-78.22),(-76.5,-78.12),(-77.93,-78.38),(-78.02,-79.18),(-76.85,-79.51),(-76.63,-79.89),(-75.36,-80.26),(-73.24,-80.42),(-71.44,-80.69),(-70.01,-81.0),(-68.19,-81.32),(-65.7,-81.47),(-63.26,-81.75),(-61.55,-82.04),(-59.69,-82.38),(-58.71,-82.85),(-58.22,-83.22),(-57.01,-82.87),(-55.36,-82.57),(-53.62,-82.26),(-51.54,-82.0),(-49.76,-81.73),(-47.27,-81.71),(-44.83,-81.85),(-42.81,-82.08),(-42.16,-81.65),(-40.77,-81.36),(-38.24,-81.34),(-36.27,-81.12),(-34.39,-80.91),(-32.31,-80.77),(-30.1,-80.59),(-28.55,-80.34),(-29.25,-79.99),(-29.69,-79.63),(-29.69,-79.26),(-31.62,-79.3),(-33.68,-79.46),(-35.64,-79.46),(-35.91,-79.08),(-35.78,-78.34),(-35.33,-78.12),(-33.9,-77.89),(-32.21,-77.65),(-31.26,-77.3),(-29.78,-77.07),(-28.88,-76.67),(-27.51,-76.5),(-26.16,-76.36),(-25.47,-76.28),(-23.93,-76.24),(-22.46,-76.11),(-21.22,-75.91),(-20.01,-75.67),(-18.91,-75.44),(-17.52,-75.13),(-16.64,-74.79),(-15.7,-74.5),(-15.41,-74.11),(-16.47,-73.87),(-16.11,-73.46),(-15.45,-73.15),(-14.41,-72.95),(-13.31,-72.72),(-12.29,-72.4),(-11.51,-72.01),(-11.02,-71.54),(-10.3,-71.27),(-9.1,-71.32),(-8.61,-71.66),(-7.42,-71.7),(-7.38,-71.32),(-6.87,-70.93),(-5.79,-71.03),(-5.54,-71.4),(-4.34,-71.46),(-3.05,-71.29),(-1.8,-71.17),(-0.66,-71.23),(-0.23,-71.64),(0.87,-71.3),(1.89,-71.13),(4.14,-70.85),(5.16,-70.62),(6.27,-70.46),(7.14,-70.25),(7.74,-69.89),(8.49,-70.15),(9.53,-70.01),(10.25,-70.48),(10.82,-70.83),(11.95,-70.64),(12.4,-70.25),(13.42,-69.97),(14.73,-70.03),(15.13,-70.4),(15.95,-70.03),(17.03,-69.91),(18.2,-69.87),(19.26,-69.89),(20.38,-70.01),(21.45,-70.07),(21.92,-70.4),(22.57,-70.7),(23.67,-70.52),(24.84,-70.48),(25.98,-70.48),(27.09,-70.46),(28.09,-70.32),(29.15,-70.21),(30.03,-69.93),(30.97,-69.76),(31.99,-69.66),(32.75,-69.38),(33.3,-68.84),(33.87,-68.5),(34.91,-68.66),(35.3,-69.01),(36.16,-69.25),(37.2,-69.17),(37.91,-69.52),(38.65,-69.78),(39.67,-69.54),(40.02,-69.11),(40.92,-68.93),(41.96,-68.6),(42.94,-68.46),(44.11,-68.27),(44.9,-68.05),(45.72,-67.82),(46.5,-67.6),(47.44,-67.72),(48.34,-67.37),(48.99,-67.09),(49.93,-67.11),(50.75,-66.88),(50.95,-66.52),(51.79,-66.25),(52.61,-66.05),(53.61,-65.9),(54.53,-65.82),(55.41,-65.88),(56.36,-65.97),(57.16,-66.25),(57.26,-66.68),(58.14,-67.01),(58.74,-67.29),(59.94,-67.41),(60.61,-67.68),(61.43,-67.95),(62.39,-68.01),(63.19,-67.82),(64.05,-67.41),(64.99,-67.62),(65.97,-67.74),(66.91,-67.86),(67.89,-67.93),(68.89,-67.93),(69.71,-68.97),(69.67,-69.23),(69.56,-69.68),(68.6,-69.93),(67.81,-70.31),(67.95,-70.7),(69.07,-70.68),(68.93,-71.07),(68.42,-71.44),(67.95,-71.85),(68.71,-72.17),(69.87,-72.26),(71.02,-72.09),(71.57,-71.7),(71.91,-71.32),(72.45,-71.01),(73.08,-70.72),(73.34,-70.36),(73.86,-69.87),(74.49,-69.78),(75.63,-69.74),(76.63,-69.62),(77.64,-69.46),(78.13,-69.07),(78.43,-68.7),(79.11,-68.33),(80.09,-68.07),(80.94,-67.88),(81.48,-67.54),(82.05,-67.37),(82.78,-67.21),(83.78,-67.31),(84.68,-67.21),(85.66,-67.09),(86.75,-67.15),(87.48,-66.88),(87.99,-66.21),(88.36,-66.48),(88.83,-66.95),(89.67,-67.15),(90.63,-67.23),(91.59,-67.11),(92.61,-67.19),(93.55,-67.21),(94.17,-67.11),(95.02,-67.17),(95.78,-67.39),(96.68,-67.25),(97.76,-67.25),(98.68,-67.11),(99.72,-67.25),(100.38,-66.92),(100.89,-66.58),(101.58,-66.31),(102.83,-65.56),(103.48,-65.7),(104.24,-65.97),(104.91,-66.33),(106.18,-66.93),(107.16,-66.95),(108.08,-66.95),(109.16,-66.84),(110.24,-66.7),(111.06,-66.43),(111.74,-66.13),(112.86,-66.09),(113.6,-65.88),(114.38,-66.07),(114.9,-66.39),(115.6,-66.7),(116.7,-66.66),(117.38,-66.92),(118.58,-67.17),(119.83,-67.27),(120.87,-67.19),(121.65,-66.88),(122.32,-66.56),(123.22,-66.48),(124.12,-66.62),(125.16,-66.72),(126.1,-66.56),(127.0,-66.56),(128.8,-66.76),(129.7,-66.58),(130.78,-66.43),(131.8,-66.39),(132.94,-66.39),(133.86,-66.29),(134.76,-66.21),(135.03,-65.72),(135.07,-65.31),(135.7,-65.58),(135.87,-66.03),(136.62,-66.08),(137.46,-66.96),(138.6,-66.9),(139.91,-66.88),(140.81,-66.82),(142.12,-66.82),(143.06,-66.8),(144.37,-66.84),(145.49,-66.92),(146.2,-67.23),(146.0,-67.6),(146.65,-67.9),(148.84,-68.39),(150.13,-68.56),(151.48,-68.72),(152.5,-68.87),(153.64,-68.89),(154.28,-68.56),(155.17,-68.84),(155.93,-69.15),(156.81,-69.38),(159.18,-69.6),(159.67,-69.99),(160.81,-70.23),(161.57,-70.58),(162.69,-70.74),(163.84,-70.72),(164.92,-70.78),(166.11,-70.76),(167.31,-70.83),(168.43,-70.97),(169.46,-71.21),(170.5,-71.4),(171.21,-71.7),(171.09,-72.09),(170.56,-72.44),(169.29,-73.66),(167.97,-73.81),(167.39,-74.17),(166.09,-74.38),(165.64,-74.77),(164.96,-75.15),(164.23,-75.46),(163.82,-75.87),(163.57,-76.24),(163.47,-76.69),(163.49,-77.07),(164.06,-77.46),(164.27,-77.83),(164.74,-78.18),(166.6,-78.32),(166.99,-78.75),(165.19,-78.91),(163.67,-79.12),(161.77,-79.16),(160.92,-79.73),(160.75,-80.2),(159.79,-80.95),(161.12,-81.28),(161.63,-81.69),(162.49,-82.06),(163.7,-82.4),(165.1,-82.71),(166.6,-83.02),(168.9,-83.34),(169.4,-83.83),(172.28,-84.04),(172.48,-84.12),(173.22,-84.41),(175.99,-84.16),(178.28,-84.47),(180,-84.71),(180,-90),(-180,-90),
]
caspian = [(50.34,44.28),(51.28,44.51),(51.32,45.25),(52.17,45.41),(53.04,45.26),(53.22,46.23),(53.04,46.85),(52.04,46.8),(51.19,47.05),(50.03,46.61),(49.1,46.4),(48.59,46.56),(48.65,46.0),(47.68,45.64),(46.68,44.61),(47.59,43.66),(47.49,42.99),(48.58,41.81),(49.11,41.28),(49.62,40.57),(50.08,40.53),(50.39,40.26),(49.57,40.18),(49.4,39.4),(49.22,39.05),(48.86,38.82),(48.88,38.32),(49.2,37.58),(50.15,37.37),(50.84,36.87),(52.26,36.7),(53.83,36.97),(53.92,37.2),(53.74,37.91),(53.88,38.95),(53.1,39.29),(53.36,39.98),(52.69,40.03),(52.92,40.88),(53.86,40.63),(54.74,40.95),(54.01,41.55),(53.72,42.12),(52.92,41.87),(52.81,41.14),(52.5,41.78),(52.45,42.03),(52.69,42.44),(52.5,42.79),(51.18,43.56),(50.89,44.03),(50.34,44.28)]

LAND = "#efefdb"
GRID = "#a9a9a9"
FONT = "DejaVu Sans"
WIDTH, HEIGHT = 930, 604
M_LEFT, M_RIGHT, M_TOP, M_BOTTOM = 46, 24, 82, 93
PLOT_W = WIDTH - M_LEFT - M_RIGHT
PLOT_H = HEIGHT - M_TOP - M_BOTTOM
STRIP_EDGES = [(47, 183), (184, 319), (320, 466), (467, 634), (635, 770), (771, 906)]


def join_rings(rings):
    lons, lats = [], []
    for ring in rings:
        lons.extend(p[0] for p in ring)
        lats.extend(p[1] for p in ring)
        lons.append(None)
        lats.append(None)
    return lons, lats


def paper_x(px):
    return (px - M_LEFT) / PLOT_W


def paper_y(py):
    return 1 - (py - M_TOP) / PLOT_H


land_rings = (
    [afro_eurasia, chukotka, americas, greenland, antarctica]
    + canada_islands + caribbean + pacific_north + russia_islands
    + europe_islands + asia_islands + oceania + south_islands
)
land_lon, land_lat = join_rings(land_rings)
lake_lon, lake_lat = join_rings([caspian])
coast_lon, coast_lat = join_rings(land_rings + [caspian])

# full 4 degree grid, heatmap needs a regular lattice
grid_lon = list(range(min(cell_lon), max(cell_lon) + 4, 4))
grid_lat = list(range(min(cell_lat), max(cell_lat) + 4, 4))
grid_z = [[None] * len(grid_lon) for _ in grid_lat]
for lon, lat, val in zip(cell_lon, cell_lat, cell_val):
    grid_z[grid_lat.index(lat)][grid_lon.index(lon)] = val

fig = go.Figure()
fig.add_trace(go.Scatter(
    x=land_lon, y=land_lat, mode="none", fill="toself", fillcolor=LAND,
    hoverinfo="skip", showlegend=False,
))
fig.add_trace(go.Scatter(
    x=lake_lon, y=lake_lat, mode="none", fill="toself", fillcolor="white",
    hoverinfo="skip", showlegend=False,
))
# heatmap and coast go on an overlay axis, otherwise the land fill would cover the cells
fig.add_trace(go.Heatmap(
    x=grid_lon, y=grid_lat, z=grid_z, xaxis="x2", yaxis="y2",
    colorscale="Viridis", zmin=min(cell_val), zmax=max(cell_val), hoverongaps=False,
    colorbar=dict(
        orientation="h", x=0, xanchor="left", y=paper_y(544.5), yanchor="top",
        len=1, lenmode="fraction", thickness=9, xpad=0, ypad=0,
        outlinecolor="black", outlinewidth=1,
        tickmode="array", tickvals=cbar_ticks, ticks="outside", ticklen=6,
        tickcolor="black", tickfont=dict(family=FONT, size=11, color="black"),
    ),
))
fig.add_trace(go.Scatter(
    x=coast_lon, y=coast_lat, xaxis="x2", yaxis="y2", mode="lines",
    line=dict(color="black", width=1.3), hoverinfo="skip", showlegend=False,
))

shapes = []
for lon in lon_ticks[1:-1]:
    shapes.append(dict(type="line", xref="x", yref="paper", x0=lon, x1=lon, y0=0, y1=1,
                       line=dict(color=GRID, width=1, dash="4px,2px"), layer="above"))
for lat in lat_ticks:
    shapes.append(dict(type="line", xref="paper", yref="y", x0=0, x1=1, y0=lat, y1=lat,
                       line=dict(color=GRID, width=1, dash="4px,2px"), layer="above"))

annotations = [dict(
    x=paper_x(476), y=paper_y(587), xref="paper", yref="paper",
    text="available_VERY_HIGH (percent)", showarrow=False,
    font=dict(family=FONT, size=11.5, color="black"), xanchor="center", yanchor="middle",
)]
for (x0, x1), label, value, gap in zip(STRIP_EDGES, stat_labels, stat_values, stat_gaps):
    shapes.append(dict(type="rect", xref="paper", yref="paper",
                       x0=paper_x(x0), x1=paper_x(x1), y0=paper_y(71), y1=paper_y(55),
                       fillcolor="#f5f5f5", line=dict(width=0), layer="below"))
    annotations.append(dict(
        x=paper_x((x0 + x1) / 2), y=paper_y(63), xref="paper", yref="paper",
        text=label + ":" + "\u00a0" * gap + value, showarrow=False,
        font=dict(family=FONT, size=11.1, color="black"), xanchor="center", yanchor="middle",
    ))

fig.update_layout(
    width=WIDTH, height=HEIGHT, paper_bgcolor="white", plot_bgcolor="white",
    margin=dict(l=M_LEFT, r=M_RIGHT, t=M_TOP, b=M_BOTTOM, autoexpand=False),
    font=dict(family=FONT, size=11, color="black"),
    title=dict(text="Missing points (very_high)", x=461 / WIDTH, xref="container", xanchor="center",
               y=1 - 16 / HEIGHT, yref="container", yanchor="middle",
               font=dict(family=FONT, size=14, color="black")),
    showlegend=False, shapes=shapes, annotations=annotations,
    xaxis=dict(range=[-180, 180], tickmode="array", tickvals=lon_ticks, ticktext=lon_labels,
               showgrid=False, zeroline=False, showline=True, mirror=True, linecolor="black", linewidth=1,
               ticks="outside", ticklen=3, tickcolor="rgba(0,0,0,0)"),
    yaxis=dict(range=[-90, 90], tickmode="array", tickvals=lat_ticks, ticktext=lat_labels,
               showgrid=False, zeroline=False, showline=True, mirror=True, linecolor="black", linewidth=1,
               ticks="outside", ticklen=4, tickcolor="rgba(0,0,0,0)"),
    xaxis2=dict(range=[-180, 180], overlaying="x", visible=False),
    yaxis2=dict(range=[-90, 90], overlaying="y", visible=False),
)

# page body has an 8px default margin, drop it so the figure sits at the window corner
fig.write_html("out.html", config={"displayModeBar": False},
               post_script="document.body.style.margin = '0';")
